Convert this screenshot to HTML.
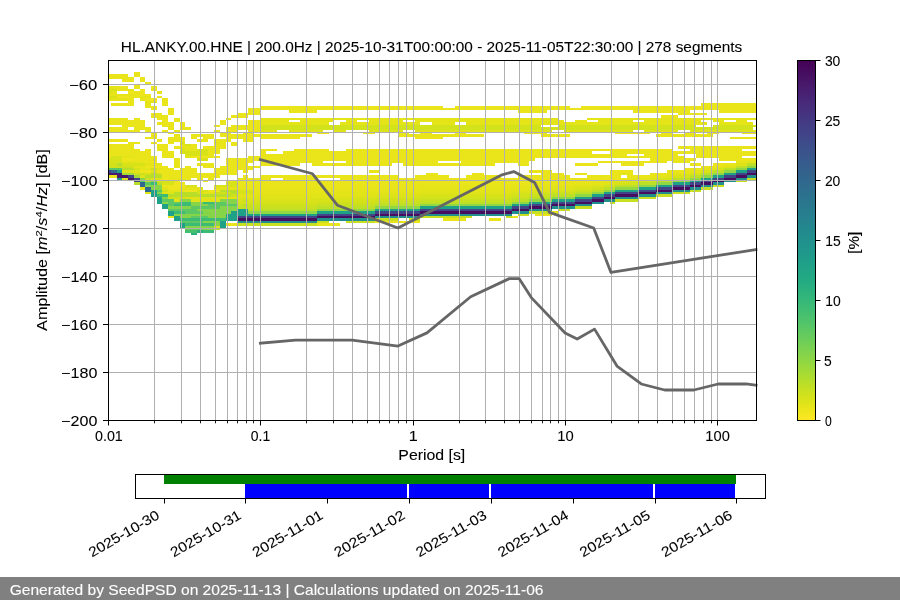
<!DOCTYPE html><html><head><meta charset="utf-8"><style>html,body{margin:0;padding:0;background:#fff;width:900px;height:600px;overflow:hidden}</style></head><body><svg width="900" height="600" viewBox="0 0 900 600" style="position:absolute;left:0;top:0;will-change:transform"><rect x="0" y="0" width="900" height="600" fill="#fff"/><g shape-rendering="crispEdges"><rect x="108" y="175" width="3" height="3" fill="#eae51a"/><rect x="108" y="173" width="3" height="2" fill="#481a6c"/><rect x="108" y="170" width="3" height="3" fill="#414487"/><rect x="108" y="168" width="3" height="2" fill="#5cc863"/><rect x="108" y="163" width="3" height="5" fill="#d0e11c"/><rect x="108" y="158" width="3" height="5" fill="#d8e219"/><rect x="108" y="156" width="3" height="2" fill="#efe51c"/><rect x="108" y="144" width="3" height="12" fill="#eae51a"/><rect x="108" y="139" width="3" height="3" fill="#eae51a"/><rect x="108" y="127" width="3" height="5" fill="#eae51a"/><rect x="108" y="118" width="3" height="7" fill="#eae51a"/><rect x="108" y="98" width="3" height="3" fill="#e5e419"/><rect x="108" y="96" width="3" height="2" fill="#d8e219"/><rect x="108" y="94" width="3" height="2" fill="#e5e419"/><rect x="108" y="89" width="3" height="5" fill="#d8e219"/><rect x="108" y="86" width="3" height="3" fill="#e5e419"/><rect x="108" y="74" width="3" height="5" fill="#eae51a"/><rect x="111" y="175" width="6" height="3" fill="#eae51a"/><rect x="111" y="173" width="6" height="2" fill="#481a6c"/><rect x="111" y="170" width="6" height="3" fill="#31688e"/><rect x="111" y="168" width="6" height="2" fill="#5cc863"/><rect x="111" y="163" width="6" height="5" fill="#d0e11c"/><rect x="111" y="156" width="6" height="7" fill="#d8e219"/><rect x="111" y="144" width="6" height="12" fill="#eae51a"/><rect x="111" y="139" width="6" height="3" fill="#eae51a"/><rect x="111" y="127" width="6" height="5" fill="#eae51a"/><rect x="111" y="118" width="6" height="7" fill="#eae51a"/><rect x="111" y="103" width="6" height="3" fill="#eae51a"/><rect x="111" y="98" width="6" height="3" fill="#e5e419"/><rect x="111" y="96" width="6" height="2" fill="#d8e219"/><rect x="111" y="91" width="6" height="5" fill="#e5e419"/><rect x="111" y="89" width="6" height="2" fill="#d8e219"/><rect x="111" y="86" width="6" height="3" fill="#e5e419"/><rect x="111" y="74" width="6" height="5" fill="#eae51a"/><rect x="117" y="178" width="5" height="2" fill="#1fa188"/><rect x="117" y="173" width="5" height="5" fill="#481a6c"/><rect x="117" y="170" width="5" height="3" fill="#1fa188"/><rect x="117" y="168" width="5" height="2" fill="#5cc863"/><rect x="117" y="166" width="5" height="2" fill="#d0e11c"/><rect x="117" y="163" width="5" height="3" fill="#b8de29"/><rect x="117" y="156" width="5" height="7" fill="#d8e219"/><rect x="117" y="144" width="5" height="12" fill="#eae51a"/><rect x="117" y="139" width="5" height="3" fill="#eae51a"/><rect x="117" y="127" width="5" height="5" fill="#eae51a"/><rect x="117" y="118" width="5" height="7" fill="#eae51a"/><rect x="117" y="103" width="5" height="3" fill="#eae51a"/><rect x="117" y="98" width="5" height="3" fill="#e5e419"/><rect x="117" y="96" width="5" height="2" fill="#efe51c"/><rect x="117" y="94" width="5" height="2" fill="#e5e419"/><rect x="117" y="86" width="5" height="5" fill="#eae51a"/><rect x="117" y="74" width="5" height="5" fill="#eae51a"/><rect x="122" y="178" width="6" height="2" fill="#dfe318"/><rect x="122" y="175" width="6" height="3" fill="#481a6c"/><rect x="122" y="173" width="6" height="2" fill="#a5db36"/><rect x="122" y="170" width="6" height="3" fill="#dfe318"/><rect x="122" y="168" width="6" height="2" fill="#b8de29"/><rect x="122" y="166" width="6" height="2" fill="#d0e11c"/><rect x="122" y="163" width="6" height="3" fill="#d8e219"/><rect x="122" y="161" width="6" height="2" fill="#e5e419"/><rect x="122" y="158" width="6" height="3" fill="#efe51c"/><rect x="122" y="156" width="6" height="2" fill="#e5e419"/><rect x="122" y="144" width="6" height="12" fill="#eae51a"/><rect x="122" y="139" width="6" height="3" fill="#eae51a"/><rect x="122" y="118" width="6" height="14" fill="#eae51a"/><rect x="122" y="103" width="6" height="3" fill="#eae51a"/><rect x="122" y="98" width="6" height="3" fill="#e5e419"/><rect x="122" y="96" width="6" height="2" fill="#efe51c"/><rect x="122" y="94" width="6" height="2" fill="#e5e419"/><rect x="122" y="86" width="6" height="5" fill="#eae51a"/><rect x="122" y="74" width="6" height="8" fill="#eae51a"/><rect x="128" y="178" width="6" height="2" fill="#481a6c"/><rect x="128" y="175" width="6" height="3" fill="#414487"/><rect x="128" y="173" width="6" height="2" fill="#a5db36"/><rect x="128" y="170" width="6" height="3" fill="#dfe318"/><rect x="128" y="168" width="6" height="2" fill="#b8de29"/><rect x="128" y="166" width="6" height="2" fill="#d0e11c"/><rect x="128" y="163" width="6" height="3" fill="#d8e219"/><rect x="128" y="161" width="6" height="2" fill="#e5e419"/><rect x="128" y="158" width="6" height="3" fill="#efe51c"/><rect x="128" y="156" width="6" height="2" fill="#e5e419"/><rect x="128" y="142" width="6" height="14" fill="#eae51a"/><rect x="128" y="130" width="6" height="2" fill="#eae51a"/><rect x="128" y="120" width="6" height="7" fill="#eae51a"/><rect x="128" y="96" width="6" height="10" fill="#eae51a"/><rect x="128" y="94" width="6" height="2" fill="#e5e419"/><rect x="128" y="91" width="6" height="3" fill="#efe51c"/><rect x="128" y="89" width="6" height="2" fill="#e5e419"/><rect x="128" y="77" width="6" height="5" fill="#eae51a"/><rect x="134" y="182" width="6" height="3" fill="#b8de29"/><rect x="134" y="178" width="6" height="4" fill="#414487"/><rect x="134" y="175" width="6" height="3" fill="#a5db36"/><rect x="134" y="173" width="6" height="2" fill="#d0e11c"/><rect x="134" y="170" width="6" height="3" fill="#dfe318"/><rect x="134" y="168" width="6" height="2" fill="#d8e219"/><rect x="134" y="166" width="6" height="2" fill="#e5e419"/><rect x="134" y="163" width="6" height="3" fill="#d8e219"/><rect x="134" y="161" width="6" height="2" fill="#e5e419"/><rect x="134" y="149" width="6" height="12" fill="#eae51a"/><rect x="134" y="142" width="6" height="2" fill="#eae51a"/><rect x="134" y="118" width="6" height="14" fill="#eae51a"/><rect x="134" y="91" width="6" height="7" fill="#eae51a"/><rect x="134" y="84" width="6" height="5" fill="#eae51a"/><rect x="134" y="72" width="6" height="5" fill="#eae51a"/><rect x="140" y="187" width="5" height="3" fill="#eae51a"/><rect x="140" y="182" width="5" height="5" fill="#31688e"/><rect x="140" y="180" width="5" height="2" fill="#5cc863"/><rect x="140" y="178" width="5" height="2" fill="#86d549"/><rect x="140" y="175" width="5" height="3" fill="#dfe318"/><rect x="140" y="173" width="5" height="2" fill="#d0e11c"/><rect x="140" y="170" width="5" height="3" fill="#efe51c"/><rect x="140" y="166" width="5" height="4" fill="#e5e419"/><rect x="140" y="163" width="5" height="3" fill="#d8e219"/><rect x="140" y="151" width="5" height="12" fill="#eae51a"/><rect x="140" y="120" width="5" height="10" fill="#eae51a"/><rect x="140" y="96" width="5" height="5" fill="#e5e419"/><rect x="140" y="89" width="5" height="7" fill="#efe51c"/><rect x="140" y="77" width="5" height="5" fill="#eae51a"/><rect x="145" y="192" width="6" height="2" fill="#dfe318"/><rect x="145" y="187" width="6" height="5" fill="#31688e"/><rect x="145" y="185" width="6" height="2" fill="#86d549"/><rect x="145" y="182" width="6" height="3" fill="#5cc863"/><rect x="145" y="180" width="6" height="2" fill="#b8de29"/><rect x="145" y="178" width="6" height="2" fill="#d0e11c"/><rect x="145" y="175" width="6" height="3" fill="#b8de29"/><rect x="145" y="173" width="6" height="2" fill="#d8e219"/><rect x="145" y="170" width="6" height="3" fill="#efe51c"/><rect x="145" y="168" width="6" height="2" fill="#e5e419"/><rect x="145" y="166" width="6" height="2" fill="#efe51c"/><rect x="145" y="163" width="6" height="3" fill="#e5e419"/><rect x="145" y="149" width="6" height="14" fill="#eae51a"/><rect x="145" y="137" width="6" height="2" fill="#eae51a"/><rect x="145" y="127" width="6" height="5" fill="#eae51a"/><rect x="145" y="106" width="6" height="2" fill="#eae51a"/><rect x="145" y="101" width="6" height="5" fill="#e5e419"/><rect x="145" y="98" width="6" height="3" fill="#efe51c"/><rect x="145" y="96" width="6" height="2" fill="#e5e419"/><rect x="145" y="94" width="6" height="2" fill="#efe51c"/><rect x="145" y="82" width="6" height="2" fill="#eae51a"/><rect x="151" y="190" width="6" height="7" fill="#1fa188"/><rect x="151" y="185" width="6" height="5" fill="#86d549"/><rect x="151" y="182" width="6" height="3" fill="#3bbb75"/><rect x="151" y="180" width="6" height="2" fill="#86d549"/><rect x="151" y="178" width="6" height="2" fill="#dfe318"/><rect x="151" y="173" width="6" height="5" fill="#b8de29"/><rect x="151" y="170" width="6" height="3" fill="#dfe318"/><rect x="151" y="168" width="6" height="2" fill="#d0e11c"/><rect x="151" y="166" width="6" height="2" fill="#efe51c"/><rect x="151" y="163" width="6" height="3" fill="#e5e419"/><rect x="151" y="161" width="6" height="2" fill="#efe51c"/><rect x="151" y="158" width="6" height="3" fill="#e5e419"/><rect x="151" y="156" width="6" height="2" fill="#efe51c"/><rect x="151" y="142" width="6" height="2" fill="#eae51a"/><rect x="151" y="132" width="6" height="7" fill="#eae51a"/><rect x="151" y="113" width="6" height="5" fill="#eae51a"/><rect x="151" y="106" width="6" height="4" fill="#eae51a"/><rect x="151" y="101" width="6" height="2" fill="#e5e419"/><rect x="151" y="98" width="6" height="3" fill="#efe51c"/><rect x="151" y="86" width="6" height="5" fill="#eae51a"/><rect x="157" y="197" width="5" height="7" fill="#1fa188"/><rect x="157" y="194" width="5" height="3" fill="#3bbb75"/><rect x="157" y="192" width="5" height="2" fill="#86d549"/><rect x="157" y="190" width="5" height="2" fill="#5cc863"/><rect x="157" y="185" width="5" height="5" fill="#86d549"/><rect x="157" y="182" width="5" height="3" fill="#b8de29"/><rect x="157" y="178" width="5" height="4" fill="#dfe318"/><rect x="157" y="175" width="5" height="3" fill="#b8de29"/><rect x="157" y="173" width="5" height="2" fill="#d0e11c"/><rect x="157" y="170" width="5" height="3" fill="#efe51c"/><rect x="157" y="168" width="5" height="2" fill="#e5e419"/><rect x="157" y="166" width="5" height="2" fill="#efe51c"/><rect x="157" y="163" width="5" height="3" fill="#e5e419"/><rect x="157" y="144" width="5" height="7" fill="#eae51a"/><rect x="157" y="139" width="5" height="3" fill="#eae51a"/><rect x="157" y="122" width="5" height="3" fill="#eae51a"/><rect x="157" y="113" width="5" height="7" fill="#eae51a"/><rect x="157" y="96" width="5" height="2" fill="#eae51a"/><rect x="157" y="91" width="5" height="3" fill="#eae51a"/><rect x="162" y="204" width="6" height="5" fill="#1fa188"/><rect x="162" y="202" width="6" height="2" fill="#86d549"/><rect x="162" y="199" width="6" height="3" fill="#5cc863"/><rect x="162" y="197" width="6" height="2" fill="#86d549"/><rect x="162" y="194" width="6" height="3" fill="#3bbb75"/><rect x="162" y="192" width="6" height="2" fill="#dfe318"/><rect x="162" y="190" width="6" height="2" fill="#d0e11c"/><rect x="162" y="187" width="6" height="3" fill="#dfe318"/><rect x="162" y="185" width="6" height="2" fill="#efe51c"/><rect x="162" y="180" width="6" height="5" fill="#d8e219"/><rect x="162" y="178" width="6" height="2" fill="#efe51c"/><rect x="162" y="166" width="6" height="12" fill="#eae51a"/><rect x="162" y="144" width="6" height="14" fill="#eae51a"/><rect x="162" y="130" width="6" height="2" fill="#eae51a"/><rect x="162" y="115" width="6" height="12" fill="#eae51a"/><rect x="162" y="98" width="6" height="8" fill="#eae51a"/><rect x="168" y="216" width="6" height="2" fill="#eae51a"/><rect x="168" y="211" width="6" height="5" fill="#1fa188"/><rect x="168" y="209" width="6" height="2" fill="#5cc863"/><rect x="168" y="206" width="6" height="3" fill="#86d549"/><rect x="168" y="199" width="6" height="7" fill="#5cc863"/><rect x="168" y="197" width="6" height="2" fill="#d0e11c"/><rect x="168" y="194" width="6" height="3" fill="#b8de29"/><rect x="168" y="192" width="6" height="2" fill="#dfe318"/><rect x="168" y="190" width="6" height="2" fill="#e5e419"/><rect x="168" y="185" width="6" height="5" fill="#efe51c"/><rect x="168" y="180" width="6" height="5" fill="#d8e219"/><rect x="168" y="168" width="6" height="12" fill="#eae51a"/><rect x="168" y="151" width="6" height="7" fill="#eae51a"/><rect x="168" y="137" width="6" height="7" fill="#eae51a"/><rect x="168" y="132" width="6" height="2" fill="#eae51a"/><rect x="168" y="122" width="6" height="8" fill="#eae51a"/><rect x="168" y="108" width="6" height="7" fill="#eae51a"/><rect x="174" y="216" width="6" height="5" fill="#1fa188"/><rect x="174" y="214" width="6" height="2" fill="#86d549"/><rect x="174" y="211" width="6" height="3" fill="#3bbb75"/><rect x="174" y="209" width="6" height="2" fill="#5cc863"/><rect x="174" y="206" width="6" height="3" fill="#86d549"/><rect x="174" y="204" width="6" height="2" fill="#3bbb75"/><rect x="174" y="202" width="6" height="2" fill="#5cc863"/><rect x="174" y="199" width="6" height="3" fill="#dfe318"/><rect x="174" y="197" width="6" height="2" fill="#d0e11c"/><rect x="174" y="192" width="6" height="5" fill="#b8de29"/><rect x="174" y="190" width="6" height="2" fill="#e5e419"/><rect x="174" y="180" width="6" height="10" fill="#efe51c"/><rect x="174" y="170" width="6" height="10" fill="#eae51a"/><rect x="174" y="158" width="6" height="10" fill="#eae51a"/><rect x="174" y="146" width="6" height="3" fill="#eae51a"/><rect x="174" y="134" width="6" height="8" fill="#eae51a"/><rect x="174" y="130" width="6" height="2" fill="#eae51a"/><rect x="174" y="118" width="6" height="4" fill="#eae51a"/><rect x="180" y="223" width="5" height="5" fill="#1fa188"/><rect x="180" y="221" width="5" height="2" fill="#5cc863"/><rect x="180" y="218" width="5" height="3" fill="#3bbb75"/><rect x="180" y="214" width="5" height="4" fill="#86d549"/><rect x="180" y="211" width="5" height="3" fill="#3bbb75"/><rect x="180" y="209" width="5" height="2" fill="#5cc863"/><rect x="180" y="206" width="5" height="3" fill="#86d549"/><rect x="180" y="202" width="5" height="4" fill="#3bbb75"/><rect x="180" y="199" width="5" height="3" fill="#86d549"/><rect x="180" y="197" width="5" height="2" fill="#d0e11c"/><rect x="180" y="192" width="5" height="5" fill="#b8de29"/><rect x="180" y="187" width="5" height="5" fill="#e5e419"/><rect x="180" y="182" width="5" height="5" fill="#efe51c"/><rect x="180" y="168" width="5" height="12" fill="#eae51a"/><rect x="180" y="149" width="5" height="5" fill="#d8e219"/><rect x="180" y="144" width="5" height="5" fill="#e5e419"/><rect x="180" y="142" width="5" height="2" fill="#d8e219"/><rect x="180" y="137" width="5" height="5" fill="#eae51a"/><rect x="180" y="122" width="5" height="8" fill="#eae51a"/><rect x="185" y="230" width="6" height="3" fill="#44bf70"/><rect x="185" y="228" width="6" height="2" fill="#67cc5c"/><rect x="185" y="226" width="6" height="2" fill="#86d549"/><rect x="185" y="223" width="6" height="3" fill="#3bbb75"/><rect x="185" y="221" width="6" height="2" fill="#5cc863"/><rect x="185" y="218" width="6" height="3" fill="#3bbb75"/><rect x="185" y="214" width="6" height="4" fill="#86d549"/><rect x="185" y="209" width="6" height="5" fill="#5cc863"/><rect x="185" y="206" width="6" height="3" fill="#86d549"/><rect x="185" y="202" width="6" height="4" fill="#3bbb75"/><rect x="185" y="199" width="6" height="3" fill="#86d549"/><rect x="185" y="197" width="6" height="2" fill="#dfe318"/><rect x="185" y="192" width="6" height="5" fill="#b8de29"/><rect x="185" y="190" width="6" height="2" fill="#efe51c"/><rect x="185" y="187" width="6" height="3" fill="#e5e419"/><rect x="185" y="185" width="6" height="2" fill="#d8e219"/><rect x="185" y="166" width="6" height="14" fill="#eae51a"/><rect x="185" y="156" width="6" height="2" fill="#e5e419"/><rect x="185" y="151" width="6" height="5" fill="#d8e219"/><rect x="185" y="146" width="6" height="5" fill="#e5e419"/><rect x="185" y="144" width="6" height="2" fill="#d8e219"/><rect x="185" y="127" width="6" height="3" fill="#eae51a"/><rect x="191" y="233" width="6" height="2" fill="#2ab07f"/><rect x="191" y="230" width="6" height="3" fill="#44bf70"/><rect x="191" y="228" width="6" height="2" fill="#67cc5c"/><rect x="191" y="226" width="6" height="2" fill="#86d549"/><rect x="191" y="223" width="6" height="3" fill="#3bbb75"/><rect x="191" y="221" width="6" height="2" fill="#5cc863"/><rect x="191" y="218" width="6" height="3" fill="#3bbb75"/><rect x="191" y="216" width="6" height="2" fill="#5cc863"/><rect x="191" y="214" width="6" height="2" fill="#86d549"/><rect x="191" y="206" width="6" height="8" fill="#5cc863"/><rect x="191" y="202" width="6" height="4" fill="#86d549"/><rect x="191" y="197" width="6" height="5" fill="#dfe318"/><rect x="191" y="192" width="6" height="5" fill="#b8de29"/><rect x="191" y="190" width="6" height="2" fill="#efe51c"/><rect x="191" y="187" width="6" height="3" fill="#e5e419"/><rect x="191" y="185" width="6" height="2" fill="#d8e219"/><rect x="191" y="168" width="6" height="10" fill="#eae51a"/><rect x="191" y="156" width="6" height="2" fill="#efe51c"/><rect x="191" y="151" width="6" height="5" fill="#d8e219"/><rect x="191" y="144" width="6" height="7" fill="#eae51a"/><rect x="191" y="134" width="6" height="5" fill="#eae51a"/><rect x="197" y="230" width="6" height="3" fill="#2ab07f"/><rect x="197" y="228" width="6" height="2" fill="#67cc5c"/><rect x="197" y="226" width="6" height="2" fill="#86d549"/><rect x="197" y="223" width="6" height="3" fill="#3bbb75"/><rect x="197" y="221" width="6" height="2" fill="#5cc863"/><rect x="197" y="218" width="6" height="3" fill="#3bbb75"/><rect x="197" y="216" width="6" height="2" fill="#5cc863"/><rect x="197" y="214" width="6" height="2" fill="#86d549"/><rect x="197" y="211" width="6" height="3" fill="#5cc863"/><rect x="197" y="209" width="6" height="2" fill="#86d549"/><rect x="197" y="206" width="6" height="3" fill="#5cc863"/><rect x="197" y="202" width="6" height="4" fill="#86d549"/><rect x="197" y="197" width="6" height="5" fill="#dfe318"/><rect x="197" y="194" width="6" height="3" fill="#b8de29"/><rect x="197" y="190" width="6" height="4" fill="#d8e219"/><rect x="197" y="187" width="6" height="3" fill="#e5e419"/><rect x="197" y="173" width="6" height="7" fill="#eae51a"/><rect x="197" y="163" width="6" height="3" fill="#eae51a"/><rect x="197" y="158" width="6" height="3" fill="#d8e219"/><rect x="197" y="156" width="6" height="2" fill="#efe51c"/><rect x="197" y="149" width="6" height="7" fill="#d8e219"/><rect x="197" y="139" width="6" height="3" fill="#eae51a"/><rect x="197" y="134" width="6" height="3" fill="#eae51a"/><rect x="203" y="230" width="5" height="3" fill="#3bbb75"/><rect x="203" y="226" width="5" height="4" fill="#86d549"/><rect x="203" y="223" width="5" height="3" fill="#3bbb75"/><rect x="203" y="221" width="5" height="2" fill="#86d549"/><rect x="203" y="218" width="5" height="3" fill="#3bbb75"/><rect x="203" y="216" width="5" height="2" fill="#5cc863"/><rect x="203" y="209" width="5" height="7" fill="#86d549"/><rect x="203" y="206" width="5" height="3" fill="#5cc863"/><rect x="203" y="204" width="5" height="2" fill="#86d549"/><rect x="203" y="202" width="5" height="2" fill="#3bbb75"/><rect x="203" y="197" width="5" height="5" fill="#dfe318"/><rect x="203" y="194" width="5" height="3" fill="#b8de29"/><rect x="203" y="192" width="5" height="2" fill="#e5e419"/><rect x="203" y="190" width="5" height="2" fill="#d8e219"/><rect x="203" y="180" width="5" height="2" fill="#eae51a"/><rect x="203" y="173" width="5" height="5" fill="#eae51a"/><rect x="203" y="163" width="5" height="5" fill="#eae51a"/><rect x="203" y="158" width="5" height="3" fill="#d8e219"/><rect x="203" y="156" width="5" height="2" fill="#efe51c"/><rect x="203" y="149" width="5" height="7" fill="#d8e219"/><rect x="203" y="146" width="5" height="3" fill="#efe51c"/><rect x="203" y="134" width="5" height="8" fill="#eae51a"/><rect x="208" y="230" width="6" height="3" fill="#3bbb75"/><rect x="208" y="226" width="6" height="4" fill="#86d549"/><rect x="208" y="223" width="6" height="3" fill="#3bbb75"/><rect x="208" y="221" width="6" height="2" fill="#86d549"/><rect x="208" y="218" width="6" height="3" fill="#3bbb75"/><rect x="208" y="209" width="6" height="9" fill="#86d549"/><rect x="208" y="204" width="6" height="5" fill="#5cc863"/><rect x="208" y="202" width="6" height="2" fill="#3bbb75"/><rect x="208" y="197" width="6" height="5" fill="#dfe318"/><rect x="208" y="194" width="6" height="3" fill="#b8de29"/><rect x="208" y="192" width="6" height="2" fill="#e5e419"/><rect x="208" y="190" width="6" height="2" fill="#efe51c"/><rect x="208" y="173" width="6" height="7" fill="#eae51a"/><rect x="208" y="163" width="6" height="5" fill="#eae51a"/><rect x="208" y="146" width="6" height="12" fill="#eae51a"/><rect x="208" y="134" width="6" height="5" fill="#eae51a"/><rect x="214" y="228" width="6" height="2" fill="#b8de29"/><rect x="214" y="226" width="6" height="2" fill="#dfe318"/><rect x="214" y="221" width="6" height="5" fill="#86d549"/><rect x="214" y="218" width="6" height="3" fill="#3bbb75"/><rect x="214" y="209" width="6" height="9" fill="#86d549"/><rect x="214" y="202" width="6" height="7" fill="#5cc863"/><rect x="214" y="197" width="6" height="5" fill="#dfe318"/><rect x="214" y="194" width="6" height="3" fill="#b8de29"/><rect x="214" y="192" width="6" height="2" fill="#d0e11c"/><rect x="214" y="190" width="6" height="2" fill="#efe51c"/><rect x="214" y="187" width="6" height="3" fill="#e5e419"/><rect x="214" y="185" width="6" height="2" fill="#d8e219"/><rect x="214" y="168" width="6" height="10" fill="#eae51a"/><rect x="214" y="156" width="6" height="2" fill="#eae51a"/><rect x="214" y="139" width="6" height="15" fill="#eae51a"/><rect x="214" y="130" width="6" height="2" fill="#eae51a"/><rect x="214" y="125" width="6" height="2" fill="#eae51a"/><rect x="220" y="221" width="6" height="7" fill="#1fa188"/><rect x="220" y="218" width="6" height="3" fill="#3bbb75"/><rect x="220" y="206" width="6" height="12" fill="#86d549"/><rect x="220" y="202" width="6" height="4" fill="#5cc863"/><rect x="220" y="199" width="6" height="3" fill="#86d549"/><rect x="220" y="197" width="6" height="2" fill="#dfe318"/><rect x="220" y="194" width="6" height="3" fill="#b8de29"/><rect x="220" y="192" width="6" height="2" fill="#d0e11c"/><rect x="220" y="190" width="6" height="2" fill="#b8de29"/><rect x="220" y="187" width="6" height="3" fill="#e5e419"/><rect x="220" y="185" width="6" height="2" fill="#d8e219"/><rect x="220" y="166" width="6" height="9" fill="#eae51a"/><rect x="220" y="139" width="6" height="10" fill="#eae51a"/><rect x="220" y="132" width="6" height="5" fill="#eae51a"/><rect x="220" y="120" width="6" height="5" fill="#eae51a"/><rect x="226" y="223" width="5" height="3" fill="#eae51a"/><rect x="226" y="214" width="5" height="7" fill="#1fa188"/><rect x="226" y="206" width="5" height="8" fill="#86d549"/><rect x="226" y="204" width="5" height="2" fill="#5cc863"/><rect x="226" y="199" width="5" height="5" fill="#86d549"/><rect x="226" y="197" width="5" height="2" fill="#dfe318"/><rect x="226" y="194" width="5" height="3" fill="#b8de29"/><rect x="226" y="192" width="5" height="2" fill="#d0e11c"/><rect x="226" y="190" width="5" height="2" fill="#b8de29"/><rect x="226" y="187" width="5" height="3" fill="#e5e419"/><rect x="226" y="182" width="5" height="5" fill="#d8e219"/><rect x="226" y="180" width="5" height="2" fill="#efe51c"/><rect x="226" y="158" width="5" height="17" fill="#eae51a"/><rect x="226" y="127" width="5" height="15" fill="#eae51a"/><rect x="226" y="118" width="5" height="2" fill="#eae51a"/><rect x="231" y="223" width="6" height="3" fill="#eae51a"/><rect x="231" y="211" width="6" height="10" fill="#1fa188"/><rect x="231" y="206" width="6" height="5" fill="#86d549"/><rect x="231" y="204" width="6" height="2" fill="#5cc863"/><rect x="231" y="199" width="6" height="5" fill="#86d549"/><rect x="231" y="197" width="6" height="2" fill="#dfe318"/><rect x="231" y="194" width="6" height="3" fill="#d0e11c"/><rect x="231" y="190" width="6" height="4" fill="#b8de29"/><rect x="231" y="187" width="6" height="3" fill="#e5e419"/><rect x="231" y="182" width="6" height="5" fill="#d8e219"/><rect x="231" y="180" width="6" height="2" fill="#e5e419"/><rect x="231" y="158" width="6" height="17" fill="#eae51a"/><rect x="231" y="142" width="6" height="4" fill="#eae51a"/><rect x="231" y="134" width="6" height="5" fill="#eae51a"/><rect x="231" y="125" width="6" height="7" fill="#eae51a"/><rect x="231" y="115" width="6" height="3" fill="#eae51a"/><rect x="237" y="223" width="6" height="3" fill="#c8e020"/><rect x="237" y="221" width="6" height="2" fill="#21908d"/><rect x="237" y="218" width="6" height="3" fill="#470d60"/><rect x="237" y="216" width="6" height="2" fill="#414487"/><rect x="237" y="209" width="6" height="7" fill="#1fa188"/><rect x="237" y="206" width="6" height="3" fill="#c5e021"/><rect x="237" y="204" width="6" height="2" fill="#cde11d"/><rect x="237" y="202" width="6" height="2" fill="#d5e21a"/><rect x="237" y="199" width="6" height="3" fill="#dae319"/><rect x="237" y="197" width="6" height="2" fill="#dde318"/><rect x="237" y="194" width="6" height="3" fill="#e2e418"/><rect x="237" y="190" width="6" height="4" fill="#d8e219"/><rect x="237" y="187" width="6" height="3" fill="#e7e419"/><rect x="237" y="185" width="6" height="2" fill="#eae51a"/><rect x="237" y="182" width="6" height="3" fill="#eae51a"/><rect x="237" y="180" width="6" height="2" fill="#eae51a"/><rect x="237" y="178" width="6" height="2" fill="#eae51a"/><rect x="237" y="158" width="6" height="12" fill="#eae51a"/><rect x="237" y="134" width="6" height="5" fill="#eae51a"/><rect x="237" y="125" width="6" height="5" fill="#eae51a"/><rect x="237" y="113" width="6" height="5" fill="#eae51a"/><rect x="243" y="223" width="5" height="3" fill="#c8e020"/><rect x="243" y="221" width="5" height="2" fill="#21908d"/><rect x="243" y="218" width="5" height="3" fill="#470d60"/><rect x="243" y="216" width="5" height="2" fill="#414487"/><rect x="243" y="209" width="5" height="7" fill="#1fa188"/><rect x="243" y="206" width="5" height="3" fill="#c5e021"/><rect x="243" y="204" width="5" height="2" fill="#b8de29"/><rect x="243" y="202" width="5" height="2" fill="#d5e21a"/><rect x="243" y="199" width="5" height="3" fill="#d0e11c"/><rect x="243" y="197" width="5" height="2" fill="#dde318"/><rect x="243" y="194" width="5" height="3" fill="#e2e418"/><rect x="243" y="190" width="5" height="4" fill="#d8e219"/><rect x="243" y="187" width="5" height="3" fill="#e7e419"/><rect x="243" y="185" width="5" height="2" fill="#eae51a"/><rect x="243" y="182" width="5" height="3" fill="#eae51a"/><rect x="243" y="180" width="5" height="2" fill="#eae51a"/><rect x="243" y="178" width="5" height="2" fill="#eae51a"/><rect x="243" y="175" width="5" height="3" fill="#eae51a"/><rect x="243" y="158" width="5" height="15" fill="#eae51a"/><rect x="243" y="132" width="5" height="10" fill="#eae51a"/><rect x="243" y="125" width="5" height="5" fill="#eae51a"/><rect x="243" y="113" width="5" height="5" fill="#eae51a"/><rect x="248" y="223" width="6" height="3" fill="#c8e020"/><rect x="248" y="221" width="6" height="2" fill="#21908d"/><rect x="248" y="218" width="6" height="3" fill="#470d60"/><rect x="248" y="216" width="6" height="2" fill="#414487"/><rect x="248" y="214" width="6" height="2" fill="#1fa188"/><rect x="248" y="211" width="6" height="3" fill="#90d743"/><rect x="248" y="209" width="6" height="2" fill="#bddf26"/><rect x="248" y="206" width="6" height="3" fill="#c5e021"/><rect x="248" y="204" width="6" height="2" fill="#cde11d"/><rect x="248" y="202" width="6" height="2" fill="#d5e21a"/><rect x="248" y="199" width="6" height="3" fill="#dae319"/><rect x="248" y="197" width="6" height="2" fill="#dde318"/><rect x="248" y="194" width="6" height="3" fill="#e2e418"/><rect x="248" y="190" width="6" height="4" fill="#d8e219"/><rect x="248" y="187" width="6" height="3" fill="#e7e419"/><rect x="248" y="185" width="6" height="2" fill="#eae51a"/><rect x="248" y="182" width="6" height="3" fill="#eae51a"/><rect x="248" y="180" width="6" height="2" fill="#eae51a"/><rect x="248" y="178" width="6" height="2" fill="#eae51a"/><rect x="248" y="166" width="6" height="4" fill="#eae51a"/><rect x="248" y="156" width="6" height="7" fill="#eae51a"/><rect x="248" y="120" width="6" height="22" fill="#eae51a"/><rect x="248" y="108" width="6" height="7" fill="#eae51a"/><rect x="254" y="223" width="6" height="3" fill="#c8e020"/><rect x="254" y="221" width="6" height="2" fill="#21908d"/><rect x="254" y="218" width="6" height="3" fill="#470d60"/><rect x="254" y="216" width="6" height="2" fill="#414487"/><rect x="254" y="214" width="6" height="2" fill="#1fa188"/><rect x="254" y="211" width="6" height="3" fill="#90d743"/><rect x="254" y="209" width="6" height="2" fill="#bddf26"/><rect x="254" y="206" width="6" height="3" fill="#c5e021"/><rect x="254" y="204" width="6" height="2" fill="#cde11d"/><rect x="254" y="202" width="6" height="2" fill="#d5e21a"/><rect x="254" y="199" width="6" height="3" fill="#dae319"/><rect x="254" y="197" width="6" height="2" fill="#dde318"/><rect x="254" y="194" width="6" height="3" fill="#e2e418"/><rect x="254" y="192" width="6" height="2" fill="#e5e419"/><rect x="254" y="190" width="6" height="2" fill="#e7e419"/><rect x="254" y="187" width="6" height="3" fill="#e7e419"/><rect x="254" y="185" width="6" height="2" fill="#eae51a"/><rect x="254" y="182" width="6" height="3" fill="#eae51a"/><rect x="254" y="180" width="6" height="2" fill="#eae51a"/><rect x="254" y="178" width="6" height="2" fill="#eae51a"/><rect x="254" y="166" width="6" height="2" fill="#eae51a"/><rect x="254" y="156" width="6" height="5" fill="#eae51a"/><rect x="254" y="134" width="6" height="3" fill="#eae51a"/><rect x="254" y="120" width="6" height="12" fill="#eae51a"/><rect x="254" y="108" width="6" height="7" fill="#eae51a"/><rect x="260" y="223" width="6" height="3" fill="#c8e020"/><rect x="260" y="221" width="6" height="2" fill="#21908d"/><rect x="260" y="218" width="6" height="3" fill="#470d60"/><rect x="260" y="216" width="6" height="2" fill="#414487"/><rect x="260" y="214" width="6" height="2" fill="#1fa188"/><rect x="260" y="211" width="6" height="3" fill="#90d743"/><rect x="260" y="209" width="6" height="2" fill="#bddf26"/><rect x="260" y="206" width="6" height="3" fill="#c8e020"/><rect x="260" y="204" width="6" height="2" fill="#d0e11c"/><rect x="260" y="202" width="6" height="2" fill="#d5e21a"/><rect x="260" y="199" width="6" height="3" fill="#dae319"/><rect x="260" y="197" width="6" height="2" fill="#dfe318"/><rect x="260" y="194" width="6" height="3" fill="#e2e418"/><rect x="260" y="192" width="6" height="2" fill="#e5e419"/><rect x="260" y="190" width="6" height="2" fill="#e7e419"/><rect x="260" y="187" width="6" height="3" fill="#e7e419"/><rect x="260" y="185" width="6" height="2" fill="#eae51a"/><rect x="260" y="182" width="6" height="3" fill="#eae51a"/><rect x="260" y="180" width="6" height="2" fill="#eae51a"/><rect x="260" y="175" width="6" height="5" fill="#eae51a"/><rect x="260" y="149" width="6" height="17" fill="#eae51a"/><rect x="260" y="134" width="6" height="5" fill="#eae51a"/><rect x="260" y="130" width="6" height="2" fill="#dfe318"/><rect x="260" y="125" width="6" height="5" fill="#d2e21b"/><rect x="260" y="118" width="6" height="7" fill="#e5e419"/><rect x="260" y="106" width="6" height="4" fill="#eae51a"/><rect x="266" y="223" width="5" height="3" fill="#c8e020"/><rect x="266" y="221" width="5" height="2" fill="#21908d"/><rect x="266" y="218" width="5" height="3" fill="#470d60"/><rect x="266" y="216" width="5" height="2" fill="#414487"/><rect x="266" y="214" width="5" height="2" fill="#1fa188"/><rect x="266" y="211" width="5" height="3" fill="#90d743"/><rect x="266" y="209" width="5" height="2" fill="#bddf26"/><rect x="266" y="206" width="5" height="3" fill="#c8e020"/><rect x="266" y="204" width="5" height="2" fill="#d0e11c"/><rect x="266" y="202" width="5" height="2" fill="#d5e21a"/><rect x="266" y="199" width="5" height="3" fill="#dae319"/><rect x="266" y="197" width="5" height="2" fill="#dfe318"/><rect x="266" y="194" width="5" height="3" fill="#e2e418"/><rect x="266" y="192" width="5" height="2" fill="#e5e419"/><rect x="266" y="190" width="5" height="2" fill="#e7e419"/><rect x="266" y="187" width="5" height="3" fill="#e7e419"/><rect x="266" y="185" width="5" height="2" fill="#eae51a"/><rect x="266" y="182" width="5" height="3" fill="#eae51a"/><rect x="266" y="180" width="5" height="2" fill="#eae51a"/><rect x="266" y="175" width="5" height="5" fill="#eae51a"/><rect x="266" y="154" width="5" height="12" fill="#eae51a"/><rect x="266" y="149" width="5" height="2" fill="#eae51a"/><rect x="266" y="134" width="5" height="5" fill="#eae51a"/><rect x="266" y="130" width="5" height="2" fill="#dfe318"/><rect x="266" y="125" width="5" height="5" fill="#d2e21b"/><rect x="266" y="118" width="5" height="7" fill="#e5e419"/><rect x="266" y="106" width="5" height="4" fill="#eae51a"/><rect x="271" y="223" width="6" height="3" fill="#c8e020"/><rect x="271" y="221" width="6" height="2" fill="#21908d"/><rect x="271" y="218" width="6" height="3" fill="#470d60"/><rect x="271" y="216" width="6" height="2" fill="#414487"/><rect x="271" y="214" width="6" height="2" fill="#1fa188"/><rect x="271" y="211" width="6" height="3" fill="#90d743"/><rect x="271" y="209" width="6" height="2" fill="#bddf26"/><rect x="271" y="206" width="6" height="3" fill="#c8e020"/><rect x="271" y="204" width="6" height="2" fill="#d0e11c"/><rect x="271" y="202" width="6" height="2" fill="#d5e21a"/><rect x="271" y="199" width="6" height="3" fill="#dae319"/><rect x="271" y="197" width="6" height="2" fill="#dfe318"/><rect x="271" y="194" width="6" height="3" fill="#e2e418"/><rect x="271" y="192" width="6" height="2" fill="#e5e419"/><rect x="271" y="190" width="6" height="2" fill="#e7e419"/><rect x="271" y="187" width="6" height="3" fill="#e7e419"/><rect x="271" y="185" width="6" height="2" fill="#eae51a"/><rect x="271" y="182" width="6" height="3" fill="#eae51a"/><rect x="271" y="180" width="6" height="2" fill="#eae51a"/><rect x="271" y="175" width="6" height="3" fill="#eae51a"/><rect x="271" y="154" width="6" height="12" fill="#eae51a"/><rect x="271" y="149" width="6" height="2" fill="#eae51a"/><rect x="271" y="134" width="6" height="5" fill="#eae51a"/><rect x="271" y="130" width="6" height="2" fill="#dfe318"/><rect x="271" y="125" width="6" height="5" fill="#d2e21b"/><rect x="271" y="118" width="6" height="7" fill="#e5e419"/><rect x="271" y="106" width="6" height="4" fill="#eae51a"/><rect x="277" y="223" width="6" height="3" fill="#c8e020"/><rect x="277" y="221" width="6" height="2" fill="#21908d"/><rect x="277" y="218" width="6" height="3" fill="#470d60"/><rect x="277" y="216" width="6" height="2" fill="#414487"/><rect x="277" y="214" width="6" height="2" fill="#1fa188"/><rect x="277" y="211" width="6" height="3" fill="#90d743"/><rect x="277" y="209" width="6" height="2" fill="#bddf26"/><rect x="277" y="206" width="6" height="3" fill="#c8e020"/><rect x="277" y="204" width="6" height="2" fill="#d0e11c"/><rect x="277" y="202" width="6" height="2" fill="#d5e21a"/><rect x="277" y="199" width="6" height="3" fill="#dae319"/><rect x="277" y="197" width="6" height="2" fill="#dfe318"/><rect x="277" y="194" width="6" height="3" fill="#e2e418"/><rect x="277" y="192" width="6" height="2" fill="#e5e419"/><rect x="277" y="190" width="6" height="2" fill="#e7e419"/><rect x="277" y="187" width="6" height="3" fill="#e7e419"/><rect x="277" y="185" width="6" height="2" fill="#eae51a"/><rect x="277" y="182" width="6" height="3" fill="#eae51a"/><rect x="277" y="180" width="6" height="2" fill="#eae51a"/><rect x="277" y="175" width="6" height="3" fill="#eae51a"/><rect x="277" y="154" width="6" height="12" fill="#eae51a"/><rect x="277" y="134" width="6" height="5" fill="#eae51a"/><rect x="277" y="125" width="6" height="5" fill="#d2e21b"/><rect x="277" y="118" width="6" height="7" fill="#e5e419"/><rect x="277" y="106" width="6" height="4" fill="#eae51a"/><rect x="283" y="223" width="6" height="3" fill="#c8e020"/><rect x="283" y="221" width="6" height="2" fill="#21908d"/><rect x="283" y="218" width="6" height="3" fill="#470d60"/><rect x="283" y="216" width="6" height="2" fill="#414487"/><rect x="283" y="214" width="6" height="2" fill="#1fa188"/><rect x="283" y="211" width="6" height="3" fill="#90d743"/><rect x="283" y="209" width="6" height="2" fill="#bddf26"/><rect x="283" y="206" width="6" height="3" fill="#c8e020"/><rect x="283" y="204" width="6" height="2" fill="#d0e11c"/><rect x="283" y="202" width="6" height="2" fill="#d5e21a"/><rect x="283" y="199" width="6" height="3" fill="#dae319"/><rect x="283" y="197" width="6" height="2" fill="#dfe318"/><rect x="283" y="194" width="6" height="3" fill="#e2e418"/><rect x="283" y="192" width="6" height="2" fill="#e5e419"/><rect x="283" y="190" width="6" height="2" fill="#e7e419"/><rect x="283" y="187" width="6" height="3" fill="#e7e419"/><rect x="283" y="185" width="6" height="2" fill="#eae51a"/><rect x="283" y="182" width="6" height="3" fill="#eae51a"/><rect x="283" y="180" width="6" height="2" fill="#eae51a"/><rect x="283" y="175" width="6" height="5" fill="#eae51a"/><rect x="283" y="151" width="6" height="15" fill="#eae51a"/><rect x="283" y="134" width="6" height="5" fill="#eae51a"/><rect x="283" y="125" width="6" height="5" fill="#d2e21b"/><rect x="283" y="118" width="6" height="7" fill="#e5e419"/><rect x="283" y="106" width="6" height="4" fill="#eae51a"/><rect x="289" y="223" width="5" height="3" fill="#c8e020"/><rect x="289" y="221" width="5" height="2" fill="#21908d"/><rect x="289" y="218" width="5" height="3" fill="#470d60"/><rect x="289" y="216" width="5" height="2" fill="#414487"/><rect x="289" y="214" width="5" height="2" fill="#1fa188"/><rect x="289" y="211" width="5" height="3" fill="#90d743"/><rect x="289" y="209" width="5" height="2" fill="#bddf26"/><rect x="289" y="206" width="5" height="3" fill="#c8e020"/><rect x="289" y="204" width="5" height="2" fill="#d0e11c"/><rect x="289" y="202" width="5" height="2" fill="#d5e21a"/><rect x="289" y="199" width="5" height="3" fill="#dae319"/><rect x="289" y="197" width="5" height="2" fill="#dfe318"/><rect x="289" y="194" width="5" height="3" fill="#e2e418"/><rect x="289" y="192" width="5" height="2" fill="#e5e419"/><rect x="289" y="190" width="5" height="2" fill="#e7e419"/><rect x="289" y="187" width="5" height="3" fill="#e7e419"/><rect x="289" y="185" width="5" height="2" fill="#eae51a"/><rect x="289" y="182" width="5" height="3" fill="#eae51a"/><rect x="289" y="180" width="5" height="2" fill="#eae51a"/><rect x="289" y="175" width="5" height="5" fill="#eae51a"/><rect x="289" y="151" width="5" height="15" fill="#eae51a"/><rect x="289" y="134" width="5" height="5" fill="#eae51a"/><rect x="289" y="130" width="5" height="2" fill="#dfe318"/><rect x="289" y="125" width="5" height="5" fill="#d2e21b"/><rect x="289" y="122" width="5" height="3" fill="#e5e419"/><rect x="289" y="118" width="5" height="2" fill="#e5e419"/><rect x="289" y="106" width="5" height="7" fill="#eae51a"/><rect x="294" y="223" width="6" height="3" fill="#c8e020"/><rect x="294" y="221" width="6" height="2" fill="#21908d"/><rect x="294" y="218" width="6" height="3" fill="#470d60"/><rect x="294" y="216" width="6" height="2" fill="#414487"/><rect x="294" y="214" width="6" height="2" fill="#1fa188"/><rect x="294" y="211" width="6" height="3" fill="#90d743"/><rect x="294" y="209" width="6" height="2" fill="#bddf26"/><rect x="294" y="206" width="6" height="3" fill="#c8e020"/><rect x="294" y="204" width="6" height="2" fill="#d0e11c"/><rect x="294" y="202" width="6" height="2" fill="#d5e21a"/><rect x="294" y="199" width="6" height="3" fill="#dae319"/><rect x="294" y="197" width="6" height="2" fill="#dfe318"/><rect x="294" y="194" width="6" height="3" fill="#e2e418"/><rect x="294" y="192" width="6" height="2" fill="#e5e419"/><rect x="294" y="190" width="6" height="2" fill="#e7e419"/><rect x="294" y="187" width="6" height="3" fill="#e7e419"/><rect x="294" y="185" width="6" height="2" fill="#eae51a"/><rect x="294" y="182" width="6" height="3" fill="#eae51a"/><rect x="294" y="180" width="6" height="2" fill="#eae51a"/><rect x="294" y="175" width="6" height="5" fill="#eae51a"/><rect x="294" y="149" width="6" height="17" fill="#eae51a"/><rect x="294" y="134" width="6" height="5" fill="#eae51a"/><rect x="294" y="130" width="6" height="2" fill="#dfe318"/><rect x="294" y="125" width="6" height="5" fill="#d2e21b"/><rect x="294" y="122" width="6" height="3" fill="#e5e419"/><rect x="294" y="118" width="6" height="2" fill="#e5e419"/><rect x="294" y="106" width="6" height="7" fill="#eae51a"/><rect x="300" y="223" width="6" height="3" fill="#c8e020"/><rect x="300" y="221" width="6" height="2" fill="#21908d"/><rect x="300" y="218" width="6" height="3" fill="#470d60"/><rect x="300" y="216" width="6" height="2" fill="#414487"/><rect x="300" y="214" width="6" height="2" fill="#1fa188"/><rect x="300" y="211" width="6" height="3" fill="#90d743"/><rect x="300" y="209" width="6" height="2" fill="#bddf26"/><rect x="300" y="206" width="6" height="3" fill="#c8e020"/><rect x="300" y="204" width="6" height="2" fill="#d0e11c"/><rect x="300" y="202" width="6" height="2" fill="#d5e21a"/><rect x="300" y="199" width="6" height="3" fill="#dae319"/><rect x="300" y="197" width="6" height="2" fill="#dfe318"/><rect x="300" y="194" width="6" height="3" fill="#e2e418"/><rect x="300" y="192" width="6" height="2" fill="#e5e419"/><rect x="300" y="190" width="6" height="2" fill="#e7e419"/><rect x="300" y="187" width="6" height="3" fill="#e7e419"/><rect x="300" y="185" width="6" height="2" fill="#eae51a"/><rect x="300" y="182" width="6" height="3" fill="#eae51a"/><rect x="300" y="180" width="6" height="2" fill="#eae51a"/><rect x="300" y="175" width="6" height="5" fill="#eae51a"/><rect x="300" y="149" width="6" height="14" fill="#eae51a"/><rect x="300" y="134" width="6" height="3" fill="#eae51a"/><rect x="300" y="130" width="6" height="2" fill="#dfe318"/><rect x="300" y="125" width="6" height="5" fill="#d2e21b"/><rect x="300" y="118" width="6" height="7" fill="#e5e419"/><rect x="300" y="106" width="6" height="7" fill="#eae51a"/><rect x="306" y="223" width="6" height="3" fill="#c8e020"/><rect x="306" y="221" width="6" height="2" fill="#21908d"/><rect x="306" y="218" width="6" height="3" fill="#470d60"/><rect x="306" y="216" width="6" height="2" fill="#414487"/><rect x="306" y="214" width="6" height="2" fill="#1fa188"/><rect x="306" y="211" width="6" height="3" fill="#90d743"/><rect x="306" y="209" width="6" height="2" fill="#bddf26"/><rect x="306" y="206" width="6" height="3" fill="#c8e020"/><rect x="306" y="204" width="6" height="2" fill="#d0e11c"/><rect x="306" y="202" width="6" height="2" fill="#d5e21a"/><rect x="306" y="199" width="6" height="3" fill="#dae319"/><rect x="306" y="197" width="6" height="2" fill="#dfe318"/><rect x="306" y="194" width="6" height="3" fill="#e2e418"/><rect x="306" y="192" width="6" height="2" fill="#e5e419"/><rect x="306" y="190" width="6" height="2" fill="#e7e419"/><rect x="306" y="187" width="6" height="3" fill="#e7e419"/><rect x="306" y="185" width="6" height="2" fill="#eae51a"/><rect x="306" y="182" width="6" height="3" fill="#eae51a"/><rect x="306" y="180" width="6" height="2" fill="#eae51a"/><rect x="306" y="175" width="6" height="5" fill="#eae51a"/><rect x="306" y="149" width="6" height="14" fill="#eae51a"/><rect x="306" y="134" width="6" height="3" fill="#eae51a"/><rect x="306" y="130" width="6" height="2" fill="#dfe318"/><rect x="306" y="125" width="6" height="5" fill="#d2e21b"/><rect x="306" y="118" width="6" height="7" fill="#e5e419"/><rect x="306" y="106" width="6" height="7" fill="#eae51a"/><rect x="312" y="223" width="5" height="3" fill="#c8e020"/><rect x="312" y="221" width="5" height="2" fill="#21908d"/><rect x="312" y="218" width="5" height="3" fill="#470d60"/><rect x="312" y="216" width="5" height="2" fill="#414487"/><rect x="312" y="214" width="5" height="2" fill="#1fa188"/><rect x="312" y="211" width="5" height="3" fill="#90d743"/><rect x="312" y="209" width="5" height="2" fill="#bddf26"/><rect x="312" y="206" width="5" height="3" fill="#c8e020"/><rect x="312" y="204" width="5" height="2" fill="#d0e11c"/><rect x="312" y="202" width="5" height="2" fill="#d5e21a"/><rect x="312" y="199" width="5" height="3" fill="#dae319"/><rect x="312" y="197" width="5" height="2" fill="#dfe318"/><rect x="312" y="194" width="5" height="3" fill="#e2e418"/><rect x="312" y="192" width="5" height="2" fill="#e5e419"/><rect x="312" y="190" width="5" height="2" fill="#e7e419"/><rect x="312" y="187" width="5" height="3" fill="#e7e419"/><rect x="312" y="185" width="5" height="2" fill="#eae51a"/><rect x="312" y="182" width="5" height="3" fill="#eae51a"/><rect x="312" y="180" width="5" height="2" fill="#eae51a"/><rect x="312" y="175" width="5" height="5" fill="#eae51a"/><rect x="312" y="149" width="5" height="17" fill="#eae51a"/><rect x="312" y="130" width="5" height="2" fill="#dfe318"/><rect x="312" y="125" width="5" height="5" fill="#d2e21b"/><rect x="312" y="118" width="5" height="7" fill="#e5e419"/><rect x="312" y="106" width="5" height="7" fill="#eae51a"/><rect x="317" y="223" width="6" height="3" fill="#eae51a"/><rect x="317" y="221" width="6" height="2" fill="#c8e020"/><rect x="317" y="218" width="6" height="3" fill="#21908d"/><rect x="317" y="216" width="6" height="2" fill="#470d60"/><rect x="317" y="214" width="6" height="2" fill="#414487"/><rect x="317" y="211" width="6" height="3" fill="#1fa188"/><rect x="317" y="209" width="6" height="2" fill="#90d743"/><rect x="317" y="206" width="6" height="3" fill="#bddf26"/><rect x="317" y="204" width="6" height="2" fill="#c8e020"/><rect x="317" y="202" width="6" height="2" fill="#d0e11c"/><rect x="317" y="199" width="6" height="3" fill="#d8e219"/><rect x="317" y="197" width="6" height="2" fill="#dde318"/><rect x="317" y="194" width="6" height="3" fill="#e2e418"/><rect x="317" y="192" width="6" height="2" fill="#e5e419"/><rect x="317" y="190" width="6" height="2" fill="#e7e419"/><rect x="317" y="187" width="6" height="3" fill="#e7e419"/><rect x="317" y="185" width="6" height="2" fill="#eae51a"/><rect x="317" y="182" width="6" height="3" fill="#eae51a"/><rect x="317" y="180" width="6" height="2" fill="#eae51a"/><rect x="317" y="175" width="6" height="3" fill="#eae51a"/><rect x="317" y="149" width="6" height="17" fill="#eae51a"/><rect x="317" y="132" width="6" height="2" fill="#eae51a"/><rect x="317" y="130" width="6" height="2" fill="#dfe318"/><rect x="317" y="125" width="6" height="5" fill="#d2e21b"/><rect x="317" y="118" width="6" height="7" fill="#e5e419"/><rect x="317" y="106" width="6" height="4" fill="#eae51a"/><rect x="323" y="223" width="6" height="3" fill="#eae51a"/><rect x="323" y="221" width="6" height="2" fill="#c8e020"/><rect x="323" y="218" width="6" height="3" fill="#21908d"/><rect x="323" y="216" width="6" height="2" fill="#470d60"/><rect x="323" y="214" width="6" height="2" fill="#414487"/><rect x="323" y="211" width="6" height="3" fill="#1fa188"/><rect x="323" y="209" width="6" height="2" fill="#90d743"/><rect x="323" y="206" width="6" height="3" fill="#bddf26"/><rect x="323" y="204" width="6" height="2" fill="#c8e020"/><rect x="323" y="202" width="6" height="2" fill="#d0e11c"/><rect x="323" y="199" width="6" height="3" fill="#d8e219"/><rect x="323" y="197" width="6" height="2" fill="#dde318"/><rect x="323" y="194" width="6" height="3" fill="#e2e418"/><rect x="323" y="192" width="6" height="2" fill="#e5e419"/><rect x="323" y="190" width="6" height="2" fill="#e7e419"/><rect x="323" y="187" width="6" height="3" fill="#e7e419"/><rect x="323" y="185" width="6" height="2" fill="#eae51a"/><rect x="323" y="182" width="6" height="3" fill="#eae51a"/><rect x="323" y="180" width="6" height="2" fill="#eae51a"/><rect x="323" y="175" width="6" height="3" fill="#eae51a"/><rect x="323" y="163" width="6" height="3" fill="#eae51a"/><rect x="323" y="149" width="6" height="12" fill="#eae51a"/><rect x="323" y="132" width="6" height="2" fill="#eae51a"/><rect x="323" y="125" width="6" height="5" fill="#d2e21b"/><rect x="323" y="118" width="6" height="7" fill="#e5e419"/><rect x="323" y="106" width="6" height="4" fill="#eae51a"/><rect x="329" y="223" width="5" height="3" fill="#eae51a"/><rect x="329" y="218" width="5" height="3" fill="#21908d"/><rect x="329" y="216" width="5" height="2" fill="#470d60"/><rect x="329" y="214" width="5" height="2" fill="#414487"/><rect x="329" y="211" width="5" height="3" fill="#1fa188"/><rect x="329" y="209" width="5" height="2" fill="#90d743"/><rect x="329" y="206" width="5" height="3" fill="#bddf26"/><rect x="329" y="204" width="5" height="2" fill="#c8e020"/><rect x="329" y="202" width="5" height="2" fill="#d0e11c"/><rect x="329" y="199" width="5" height="3" fill="#d8e219"/><rect x="329" y="197" width="5" height="2" fill="#dde318"/><rect x="329" y="194" width="5" height="3" fill="#e2e418"/><rect x="329" y="192" width="5" height="2" fill="#e5e419"/><rect x="329" y="190" width="5" height="2" fill="#e7e419"/><rect x="329" y="187" width="5" height="3" fill="#e7e419"/><rect x="329" y="185" width="5" height="2" fill="#eae51a"/><rect x="329" y="182" width="5" height="3" fill="#eae51a"/><rect x="329" y="180" width="5" height="2" fill="#eae51a"/><rect x="329" y="175" width="5" height="3" fill="#eae51a"/><rect x="329" y="163" width="5" height="3" fill="#eae51a"/><rect x="329" y="151" width="5" height="10" fill="#eae51a"/><rect x="329" y="125" width="5" height="5" fill="#d2e21b"/><rect x="329" y="118" width="5" height="4" fill="#e5e419"/><rect x="329" y="106" width="5" height="4" fill="#eae51a"/><rect x="334" y="223" width="6" height="3" fill="#eae51a"/><rect x="334" y="218" width="6" height="3" fill="#21908d"/><rect x="334" y="216" width="6" height="2" fill="#470d60"/><rect x="334" y="214" width="6" height="2" fill="#414487"/><rect x="334" y="211" width="6" height="3" fill="#1fa188"/><rect x="334" y="209" width="6" height="2" fill="#90d743"/><rect x="334" y="206" width="6" height="3" fill="#bddf26"/><rect x="334" y="204" width="6" height="2" fill="#c8e020"/><rect x="334" y="202" width="6" height="2" fill="#d0e11c"/><rect x="334" y="199" width="6" height="3" fill="#d8e219"/><rect x="334" y="197" width="6" height="2" fill="#dde318"/><rect x="334" y="194" width="6" height="3" fill="#e2e418"/><rect x="334" y="192" width="6" height="2" fill="#e5e419"/><rect x="334" y="190" width="6" height="2" fill="#e7e419"/><rect x="334" y="187" width="6" height="3" fill="#e7e419"/><rect x="334" y="185" width="6" height="2" fill="#eae51a"/><rect x="334" y="182" width="6" height="3" fill="#eae51a"/><rect x="334" y="180" width="6" height="2" fill="#eae51a"/><rect x="334" y="175" width="6" height="3" fill="#eae51a"/><rect x="334" y="163" width="6" height="3" fill="#eae51a"/><rect x="334" y="151" width="6" height="10" fill="#eae51a"/><rect x="334" y="130" width="6" height="2" fill="#dfe318"/><rect x="334" y="125" width="6" height="5" fill="#d2e21b"/><rect x="334" y="118" width="6" height="2" fill="#e5e419"/><rect x="334" y="106" width="6" height="4" fill="#eae51a"/><rect x="340" y="218" width="6" height="3" fill="#21908d"/><rect x="340" y="216" width="6" height="2" fill="#470d60"/><rect x="340" y="214" width="6" height="2" fill="#414487"/><rect x="340" y="211" width="6" height="3" fill="#1fa188"/><rect x="340" y="209" width="6" height="2" fill="#90d743"/><rect x="340" y="206" width="6" height="3" fill="#bddf26"/><rect x="340" y="204" width="6" height="2" fill="#c8e020"/><rect x="340" y="202" width="6" height="2" fill="#d0e11c"/><rect x="340" y="199" width="6" height="3" fill="#d8e219"/><rect x="340" y="197" width="6" height="2" fill="#dde318"/><rect x="340" y="194" width="6" height="3" fill="#e2e418"/><rect x="340" y="192" width="6" height="2" fill="#e5e419"/><rect x="340" y="190" width="6" height="2" fill="#e7e419"/><rect x="340" y="187" width="6" height="3" fill="#e7e419"/><rect x="340" y="185" width="6" height="2" fill="#eae51a"/><rect x="340" y="182" width="6" height="3" fill="#eae51a"/><rect x="340" y="180" width="6" height="2" fill="#eae51a"/><rect x="340" y="175" width="6" height="5" fill="#eae51a"/><rect x="340" y="163" width="6" height="3" fill="#eae51a"/><rect x="340" y="151" width="6" height="10" fill="#eae51a"/><rect x="340" y="130" width="6" height="2" fill="#dfe318"/><rect x="340" y="125" width="6" height="5" fill="#d2e21b"/><rect x="340" y="122" width="6" height="3" fill="#e5e419"/><rect x="340" y="118" width="6" height="2" fill="#e5e419"/><rect x="340" y="106" width="6" height="4" fill="#eae51a"/><rect x="346" y="221" width="6" height="2" fill="#c8e020"/><rect x="346" y="218" width="6" height="3" fill="#21908d"/><rect x="346" y="216" width="6" height="2" fill="#470d60"/><rect x="346" y="214" width="6" height="2" fill="#414487"/><rect x="346" y="211" width="6" height="3" fill="#1fa188"/><rect x="346" y="209" width="6" height="2" fill="#90d743"/><rect x="346" y="206" width="6" height="3" fill="#bddf26"/><rect x="346" y="204" width="6" height="2" fill="#c8e020"/><rect x="346" y="202" width="6" height="2" fill="#d0e11c"/><rect x="346" y="199" width="6" height="3" fill="#d8e219"/><rect x="346" y="197" width="6" height="2" fill="#dde318"/><rect x="346" y="194" width="6" height="3" fill="#e2e418"/><rect x="346" y="192" width="6" height="2" fill="#e5e419"/><rect x="346" y="190" width="6" height="2" fill="#e7e419"/><rect x="346" y="187" width="6" height="3" fill="#e7e419"/><rect x="346" y="185" width="6" height="2" fill="#eae51a"/><rect x="346" y="182" width="6" height="3" fill="#eae51a"/><rect x="346" y="180" width="6" height="2" fill="#eae51a"/><rect x="346" y="175" width="6" height="5" fill="#eae51a"/><rect x="346" y="149" width="6" height="17" fill="#eae51a"/><rect x="346" y="125" width="6" height="5" fill="#d2e21b"/><rect x="346" y="118" width="6" height="7" fill="#e5e419"/><rect x="346" y="106" width="6" height="4" fill="#eae51a"/><rect x="352" y="221" width="5" height="2" fill="#c8e020"/><rect x="352" y="218" width="5" height="3" fill="#21908d"/><rect x="352" y="216" width="5" height="2" fill="#470d60"/><rect x="352" y="214" width="5" height="2" fill="#414487"/><rect x="352" y="211" width="5" height="3" fill="#1fa188"/><rect x="352" y="209" width="5" height="2" fill="#90d743"/><rect x="352" y="206" width="5" height="3" fill="#bddf26"/><rect x="352" y="204" width="5" height="2" fill="#c8e020"/><rect x="352" y="202" width="5" height="2" fill="#d0e11c"/><rect x="352" y="199" width="5" height="3" fill="#d5e21a"/><rect x="352" y="197" width="5" height="2" fill="#dae319"/><rect x="352" y="194" width="5" height="3" fill="#dfe318"/><rect x="352" y="192" width="5" height="2" fill="#e2e418"/><rect x="352" y="190" width="5" height="2" fill="#e5e419"/><rect x="352" y="187" width="5" height="3" fill="#e7e419"/><rect x="352" y="185" width="5" height="2" fill="#e7e419"/><rect x="352" y="182" width="5" height="3" fill="#eae51a"/><rect x="352" y="180" width="5" height="2" fill="#eae51a"/><rect x="352" y="178" width="5" height="2" fill="#eae51a"/><rect x="352" y="175" width="5" height="3" fill="#eae51a"/><rect x="352" y="149" width="5" height="17" fill="#eae51a"/><rect x="352" y="125" width="5" height="5" fill="#d2e21b"/><rect x="352" y="118" width="5" height="7" fill="#e5e419"/><rect x="352" y="106" width="5" height="4" fill="#eae51a"/><rect x="357" y="221" width="6" height="2" fill="#c8e020"/><rect x="357" y="218" width="6" height="3" fill="#21908d"/><rect x="357" y="216" width="6" height="2" fill="#470d60"/><rect x="357" y="214" width="6" height="2" fill="#414487"/><rect x="357" y="211" width="6" height="3" fill="#1fa188"/><rect x="357" y="209" width="6" height="2" fill="#90d743"/><rect x="357" y="206" width="6" height="3" fill="#bddf26"/><rect x="357" y="204" width="6" height="2" fill="#c8e020"/><rect x="357" y="202" width="6" height="2" fill="#d0e11c"/><rect x="357" y="199" width="6" height="3" fill="#d5e21a"/><rect x="357" y="197" width="6" height="2" fill="#dae319"/><rect x="357" y="194" width="6" height="3" fill="#dfe318"/><rect x="357" y="192" width="6" height="2" fill="#e2e418"/><rect x="357" y="190" width="6" height="2" fill="#e5e419"/><rect x="357" y="187" width="6" height="3" fill="#e7e419"/><rect x="357" y="185" width="6" height="2" fill="#e7e419"/><rect x="357" y="182" width="6" height="3" fill="#eae51a"/><rect x="357" y="180" width="6" height="2" fill="#eae51a"/><rect x="357" y="178" width="6" height="2" fill="#eae51a"/><rect x="357" y="175" width="6" height="3" fill="#eae51a"/><rect x="357" y="149" width="6" height="17" fill="#eae51a"/><rect x="357" y="125" width="6" height="5" fill="#d2e21b"/><rect x="357" y="122" width="6" height="3" fill="#e5e419"/><rect x="357" y="118" width="6" height="2" fill="#e5e419"/><rect x="357" y="106" width="6" height="4" fill="#eae51a"/><rect x="363" y="221" width="6" height="2" fill="#c8e020"/><rect x="363" y="218" width="6" height="3" fill="#21908d"/><rect x="363" y="216" width="6" height="2" fill="#470d60"/><rect x="363" y="214" width="6" height="2" fill="#414487"/><rect x="363" y="211" width="6" height="3" fill="#1fa188"/><rect x="363" y="209" width="6" height="2" fill="#90d743"/><rect x="363" y="206" width="6" height="3" fill="#bddf26"/><rect x="363" y="204" width="6" height="2" fill="#c8e020"/><rect x="363" y="202" width="6" height="2" fill="#d0e11c"/><rect x="363" y="199" width="6" height="3" fill="#d5e21a"/><rect x="363" y="197" width="6" height="2" fill="#dae319"/><rect x="363" y="194" width="6" height="3" fill="#dfe318"/><rect x="363" y="192" width="6" height="2" fill="#e2e418"/><rect x="363" y="190" width="6" height="2" fill="#e5e419"/><rect x="363" y="187" width="6" height="3" fill="#e7e419"/><rect x="363" y="185" width="6" height="2" fill="#e7e419"/><rect x="363" y="182" width="6" height="3" fill="#eae51a"/><rect x="363" y="180" width="6" height="2" fill="#eae51a"/><rect x="363" y="178" width="6" height="2" fill="#eae51a"/><rect x="363" y="175" width="6" height="3" fill="#eae51a"/><rect x="363" y="149" width="6" height="17" fill="#eae51a"/><rect x="363" y="132" width="6" height="2" fill="#eae51a"/><rect x="363" y="125" width="6" height="5" fill="#d2e21b"/><rect x="363" y="122" width="6" height="3" fill="#e5e419"/><rect x="363" y="118" width="6" height="2" fill="#e5e419"/><rect x="363" y="106" width="6" height="4" fill="#eae51a"/><rect x="369" y="221" width="6" height="2" fill="#c8e020"/><rect x="369" y="218" width="6" height="3" fill="#21908d"/><rect x="369" y="216" width="6" height="2" fill="#470d60"/><rect x="369" y="214" width="6" height="2" fill="#414487"/><rect x="369" y="211" width="6" height="3" fill="#1fa188"/><rect x="369" y="209" width="6" height="2" fill="#90d743"/><rect x="369" y="206" width="6" height="3" fill="#bddf26"/><rect x="369" y="204" width="6" height="2" fill="#c8e020"/><rect x="369" y="202" width="6" height="2" fill="#d0e11c"/><rect x="369" y="199" width="6" height="3" fill="#d5e21a"/><rect x="369" y="197" width="6" height="2" fill="#dae319"/><rect x="369" y="194" width="6" height="3" fill="#dfe318"/><rect x="369" y="192" width="6" height="2" fill="#e2e418"/><rect x="369" y="190" width="6" height="2" fill="#e5e419"/><rect x="369" y="187" width="6" height="3" fill="#e7e419"/><rect x="369" y="185" width="6" height="2" fill="#e7e419"/><rect x="369" y="182" width="6" height="3" fill="#eae51a"/><rect x="369" y="180" width="6" height="2" fill="#eae51a"/><rect x="369" y="178" width="6" height="2" fill="#eae51a"/><rect x="369" y="175" width="6" height="3" fill="#eae51a"/><rect x="369" y="170" width="6" height="3" fill="#eae51a"/><rect x="369" y="149" width="6" height="17" fill="#eae51a"/><rect x="369" y="132" width="6" height="2" fill="#eae51a"/><rect x="369" y="130" width="6" height="2" fill="#dfe318"/><rect x="369" y="125" width="6" height="5" fill="#d2e21b"/><rect x="369" y="118" width="6" height="7" fill="#e5e419"/><rect x="369" y="106" width="6" height="4" fill="#eae51a"/><rect x="375" y="221" width="5" height="2" fill="#eae51a"/><rect x="375" y="218" width="5" height="3" fill="#c8e020"/><rect x="375" y="216" width="5" height="2" fill="#21908d"/><rect x="375" y="214" width="5" height="2" fill="#470d60"/><rect x="375" y="211" width="5" height="3" fill="#414487"/><rect x="375" y="209" width="5" height="2" fill="#1fa188"/><rect x="375" y="206" width="5" height="3" fill="#90d743"/><rect x="375" y="204" width="5" height="2" fill="#bddf26"/><rect x="375" y="202" width="5" height="2" fill="#c8e020"/><rect x="375" y="199" width="5" height="3" fill="#d0e11c"/><rect x="375" y="197" width="5" height="2" fill="#d8e219"/><rect x="375" y="194" width="5" height="3" fill="#dde318"/><rect x="375" y="192" width="5" height="2" fill="#e2e418"/><rect x="375" y="190" width="5" height="2" fill="#e5e419"/><rect x="375" y="187" width="5" height="3" fill="#e7e419"/><rect x="375" y="185" width="5" height="2" fill="#e7e419"/><rect x="375" y="182" width="5" height="3" fill="#eae51a"/><rect x="375" y="180" width="5" height="2" fill="#eae51a"/><rect x="375" y="178" width="5" height="2" fill="#eae51a"/><rect x="375" y="175" width="5" height="3" fill="#eae51a"/><rect x="375" y="170" width="5" height="3" fill="#eae51a"/><rect x="375" y="149" width="5" height="17" fill="#eae51a"/><rect x="375" y="130" width="5" height="2" fill="#dfe318"/><rect x="375" y="125" width="5" height="5" fill="#d2e21b"/><rect x="375" y="118" width="5" height="7" fill="#e5e419"/><rect x="375" y="106" width="5" height="4" fill="#eae51a"/><rect x="380" y="221" width="6" height="2" fill="#eae51a"/><rect x="380" y="218" width="6" height="3" fill="#c8e020"/><rect x="380" y="216" width="6" height="2" fill="#21908d"/><rect x="380" y="214" width="6" height="2" fill="#470d60"/><rect x="380" y="211" width="6" height="3" fill="#414487"/><rect x="380" y="209" width="6" height="2" fill="#1fa188"/><rect x="380" y="206" width="6" height="3" fill="#90d743"/><rect x="380" y="204" width="6" height="2" fill="#bddf26"/><rect x="380" y="202" width="6" height="2" fill="#c8e020"/><rect x="380" y="199" width="6" height="3" fill="#d0e11c"/><rect x="380" y="197" width="6" height="2" fill="#d8e219"/><rect x="380" y="194" width="6" height="3" fill="#dde318"/><rect x="380" y="192" width="6" height="2" fill="#e2e418"/><rect x="380" y="190" width="6" height="2" fill="#e5e419"/><rect x="380" y="187" width="6" height="3" fill="#e7e419"/><rect x="380" y="185" width="6" height="2" fill="#e7e419"/><rect x="380" y="182" width="6" height="3" fill="#eae51a"/><rect x="380" y="180" width="6" height="2" fill="#eae51a"/><rect x="380" y="178" width="6" height="2" fill="#eae51a"/><rect x="380" y="175" width="6" height="3" fill="#eae51a"/><rect x="380" y="149" width="6" height="17" fill="#eae51a"/><rect x="380" y="130" width="6" height="2" fill="#dfe318"/><rect x="380" y="125" width="6" height="5" fill="#d2e21b"/><rect x="380" y="118" width="6" height="7" fill="#e5e419"/><rect x="380" y="106" width="6" height="4" fill="#eae51a"/><rect x="386" y="221" width="6" height="2" fill="#eae51a"/><rect x="386" y="218" width="6" height="3" fill="#c8e020"/><rect x="386" y="216" width="6" height="2" fill="#21908d"/><rect x="386" y="214" width="6" height="2" fill="#470d60"/><rect x="386" y="211" width="6" height="3" fill="#414487"/><rect x="386" y="209" width="6" height="2" fill="#1fa188"/><rect x="386" y="206" width="6" height="3" fill="#90d743"/><rect x="386" y="204" width="6" height="2" fill="#bddf26"/><rect x="386" y="202" width="6" height="2" fill="#c8e020"/><rect x="386" y="199" width="6" height="3" fill="#d0e11c"/><rect x="386" y="197" width="6" height="2" fill="#d8e219"/><rect x="386" y="194" width="6" height="3" fill="#dde318"/><rect x="386" y="192" width="6" height="2" fill="#e2e418"/><rect x="386" y="190" width="6" height="2" fill="#e5e419"/><rect x="386" y="187" width="6" height="3" fill="#e7e419"/><rect x="386" y="185" width="6" height="2" fill="#e7e419"/><rect x="386" y="182" width="6" height="3" fill="#eae51a"/><rect x="386" y="180" width="6" height="2" fill="#eae51a"/><rect x="386" y="178" width="6" height="2" fill="#eae51a"/><rect x="386" y="175" width="6" height="3" fill="#eae51a"/><rect x="386" y="149" width="6" height="17" fill="#eae51a"/><rect x="386" y="130" width="6" height="2" fill="#dfe318"/><rect x="386" y="125" width="6" height="5" fill="#d2e21b"/><rect x="386" y="118" width="6" height="7" fill="#e5e419"/><rect x="386" y="106" width="6" height="4" fill="#eae51a"/><rect x="392" y="221" width="6" height="2" fill="#eae51a"/><rect x="392" y="218" width="6" height="3" fill="#c8e020"/><rect x="392" y="216" width="6" height="2" fill="#21908d"/><rect x="392" y="214" width="6" height="2" fill="#470d60"/><rect x="392" y="211" width="6" height="3" fill="#414487"/><rect x="392" y="209" width="6" height="2" fill="#1fa188"/><rect x="392" y="206" width="6" height="3" fill="#90d743"/><rect x="392" y="204" width="6" height="2" fill="#bddf26"/><rect x="392" y="202" width="6" height="2" fill="#c8e020"/><rect x="392" y="199" width="6" height="3" fill="#d0e11c"/><rect x="392" y="197" width="6" height="2" fill="#d8e219"/><rect x="392" y="194" width="6" height="3" fill="#dde318"/><rect x="392" y="192" width="6" height="2" fill="#e2e418"/><rect x="392" y="190" width="6" height="2" fill="#e5e419"/><rect x="392" y="187" width="6" height="3" fill="#e7e419"/><rect x="392" y="185" width="6" height="2" fill="#e7e419"/><rect x="392" y="182" width="6" height="3" fill="#eae51a"/><rect x="392" y="180" width="6" height="2" fill="#eae51a"/><rect x="392" y="178" width="6" height="2" fill="#eae51a"/><rect x="392" y="175" width="6" height="3" fill="#eae51a"/><rect x="392" y="149" width="6" height="14" fill="#eae51a"/><rect x="392" y="130" width="6" height="2" fill="#dfe318"/><rect x="392" y="125" width="6" height="5" fill="#d2e21b"/><rect x="392" y="118" width="6" height="7" fill="#e5e419"/><rect x="392" y="106" width="6" height="4" fill="#eae51a"/><rect x="398" y="221" width="5" height="2" fill="#eae51a"/><rect x="398" y="216" width="5" height="2" fill="#21908d"/><rect x="398" y="214" width="5" height="2" fill="#470d60"/><rect x="398" y="211" width="5" height="3" fill="#414487"/><rect x="398" y="209" width="5" height="2" fill="#1fa188"/><rect x="398" y="206" width="5" height="3" fill="#90d743"/><rect x="398" y="204" width="5" height="2" fill="#bddf26"/><rect x="398" y="202" width="5" height="2" fill="#c8e020"/><rect x="398" y="199" width="5" height="3" fill="#d0e11c"/><rect x="398" y="197" width="5" height="2" fill="#d8e219"/><rect x="398" y="194" width="5" height="3" fill="#dde318"/><rect x="398" y="192" width="5" height="2" fill="#e2e418"/><rect x="398" y="190" width="5" height="2" fill="#e5e419"/><rect x="398" y="187" width="5" height="3" fill="#e7e419"/><rect x="398" y="185" width="5" height="2" fill="#e7e419"/><rect x="398" y="182" width="5" height="3" fill="#eae51a"/><rect x="398" y="180" width="5" height="2" fill="#eae51a"/><rect x="398" y="178" width="5" height="2" fill="#eae51a"/><rect x="398" y="149" width="5" height="14" fill="#eae51a"/><rect x="398" y="132" width="5" height="5" fill="#eae51a"/><rect x="398" y="130" width="5" height="2" fill="#dfe318"/><rect x="398" y="125" width="5" height="5" fill="#d2e21b"/><rect x="398" y="118" width="5" height="7" fill="#e5e419"/><rect x="398" y="106" width="5" height="4" fill="#eae51a"/><rect x="403" y="221" width="6" height="2" fill="#eae51a"/><rect x="403" y="216" width="6" height="2" fill="#21908d"/><rect x="403" y="214" width="6" height="2" fill="#470d60"/><rect x="403" y="211" width="6" height="3" fill="#414487"/><rect x="403" y="209" width="6" height="2" fill="#1fa188"/><rect x="403" y="206" width="6" height="3" fill="#90d743"/><rect x="403" y="204" width="6" height="2" fill="#bddf26"/><rect x="403" y="202" width="6" height="2" fill="#c8e020"/><rect x="403" y="199" width="6" height="3" fill="#d0e11c"/><rect x="403" y="197" width="6" height="2" fill="#d8e219"/><rect x="403" y="194" width="6" height="3" fill="#dde318"/><rect x="403" y="192" width="6" height="2" fill="#e2e418"/><rect x="403" y="190" width="6" height="2" fill="#e5e419"/><rect x="403" y="187" width="6" height="3" fill="#e7e419"/><rect x="403" y="185" width="6" height="2" fill="#e7e419"/><rect x="403" y="182" width="6" height="3" fill="#eae51a"/><rect x="403" y="180" width="6" height="2" fill="#eae51a"/><rect x="403" y="178" width="6" height="2" fill="#eae51a"/><rect x="403" y="149" width="6" height="17" fill="#eae51a"/><rect x="403" y="132" width="6" height="5" fill="#eae51a"/><rect x="403" y="125" width="6" height="5" fill="#d2e21b"/><rect x="403" y="122" width="6" height="3" fill="#e5e419"/><rect x="403" y="118" width="6" height="2" fill="#e5e419"/><rect x="403" y="106" width="6" height="4" fill="#eae51a"/><rect x="409" y="221" width="6" height="2" fill="#eae51a"/><rect x="409" y="218" width="6" height="3" fill="#c8e020"/><rect x="409" y="216" width="6" height="2" fill="#21908d"/><rect x="409" y="214" width="6" height="2" fill="#470d60"/><rect x="409" y="211" width="6" height="3" fill="#414487"/><rect x="409" y="209" width="6" height="2" fill="#1fa188"/><rect x="409" y="206" width="6" height="3" fill="#90d743"/><rect x="409" y="204" width="6" height="2" fill="#bddf26"/><rect x="409" y="202" width="6" height="2" fill="#c8e020"/><rect x="409" y="199" width="6" height="3" fill="#d0e11c"/><rect x="409" y="197" width="6" height="2" fill="#d8e219"/><rect x="409" y="194" width="6" height="3" fill="#dde318"/><rect x="409" y="192" width="6" height="2" fill="#e2e418"/><rect x="409" y="190" width="6" height="2" fill="#e5e419"/><rect x="409" y="187" width="6" height="3" fill="#e7e419"/><rect x="409" y="185" width="6" height="2" fill="#e7e419"/><rect x="409" y="182" width="6" height="3" fill="#eae51a"/><rect x="409" y="180" width="6" height="2" fill="#eae51a"/><rect x="409" y="178" width="6" height="2" fill="#eae51a"/><rect x="409" y="149" width="6" height="17" fill="#eae51a"/><rect x="409" y="134" width="6" height="3" fill="#eae51a"/><rect x="409" y="125" width="6" height="5" fill="#d2e21b"/><rect x="409" y="122" width="6" height="3" fill="#e5e419"/><rect x="409" y="118" width="6" height="2" fill="#e5e419"/><rect x="409" y="106" width="6" height="4" fill="#eae51a"/><rect x="415" y="221" width="5" height="2" fill="#eae51a"/><rect x="415" y="218" width="5" height="3" fill="#c8e020"/><rect x="415" y="216" width="5" height="2" fill="#21908d"/><rect x="415" y="214" width="5" height="2" fill="#470d60"/><rect x="415" y="211" width="5" height="3" fill="#414487"/><rect x="415" y="209" width="5" height="2" fill="#1fa188"/><rect x="415" y="206" width="5" height="3" fill="#90d743"/><rect x="415" y="204" width="5" height="2" fill="#bddf26"/><rect x="415" y="202" width="5" height="2" fill="#c8e020"/><rect x="415" y="199" width="5" height="3" fill="#d0e11c"/><rect x="415" y="197" width="5" height="2" fill="#d8e219"/><rect x="415" y="194" width="5" height="3" fill="#dde318"/><rect x="415" y="192" width="5" height="2" fill="#e2e418"/><rect x="415" y="190" width="5" height="2" fill="#e5e419"/><rect x="415" y="187" width="5" height="3" fill="#e7e419"/><rect x="415" y="185" width="5" height="2" fill="#e7e419"/><rect x="415" y="182" width="5" height="3" fill="#eae51a"/><rect x="415" y="180" width="5" height="2" fill="#eae51a"/><rect x="415" y="178" width="5" height="2" fill="#eae51a"/><rect x="415" y="175" width="5" height="3" fill="#eae51a"/><rect x="415" y="149" width="5" height="17" fill="#eae51a"/><rect x="415" y="134" width="5" height="5" fill="#eae51a"/><rect x="415" y="130" width="5" height="2" fill="#dfe318"/><rect x="415" y="125" width="5" height="5" fill="#d2e21b"/><rect x="415" y="118" width="5" height="7" fill="#e5e419"/><rect x="415" y="106" width="5" height="4" fill="#eae51a"/><rect x="420" y="216" width="6" height="2" fill="#c8e020"/><rect x="420" y="214" width="6" height="2" fill="#21908d"/><rect x="420" y="211" width="6" height="3" fill="#470d60"/><rect x="420" y="209" width="6" height="2" fill="#414487"/><rect x="420" y="206" width="6" height="3" fill="#1fa188"/><rect x="420" y="204" width="6" height="2" fill="#90d743"/><rect x="420" y="202" width="6" height="2" fill="#bddf26"/><rect x="420" y="199" width="6" height="3" fill="#c8e020"/><rect x="420" y="197" width="6" height="2" fill="#d2e21b"/><rect x="420" y="194" width="6" height="3" fill="#d8e219"/><rect x="420" y="192" width="6" height="2" fill="#dfe318"/><rect x="420" y="190" width="6" height="2" fill="#e2e418"/><rect x="420" y="187" width="6" height="3" fill="#e5e419"/><rect x="420" y="185" width="6" height="2" fill="#e7e419"/><rect x="420" y="182" width="6" height="3" fill="#eae51a"/><rect x="420" y="180" width="6" height="2" fill="#eae51a"/><rect x="420" y="178" width="6" height="2" fill="#eae51a"/><rect x="420" y="175" width="6" height="3" fill="#eae51a"/><rect x="420" y="149" width="6" height="17" fill="#eae51a"/><rect x="420" y="132" width="6" height="7" fill="#eae51a"/><rect x="420" y="130" width="6" height="2" fill="#dfe318"/><rect x="420" y="125" width="6" height="5" fill="#d2e21b"/><rect x="420" y="118" width="6" height="4" fill="#e5e419"/><rect x="420" y="106" width="6" height="4" fill="#eae51a"/><rect x="426" y="216" width="6" height="2" fill="#c8e020"/><rect x="426" y="214" width="6" height="2" fill="#21908d"/><rect x="426" y="211" width="6" height="3" fill="#470d60"/><rect x="426" y="209" width="6" height="2" fill="#414487"/><rect x="426" y="206" width="6" height="3" fill="#1fa188"/><rect x="426" y="204" width="6" height="2" fill="#90d743"/><rect x="426" y="202" width="6" height="2" fill="#bddf26"/><rect x="426" y="199" width="6" height="3" fill="#c8e020"/><rect x="426" y="197" width="6" height="2" fill="#d2e21b"/><rect x="426" y="194" width="6" height="3" fill="#d8e219"/><rect x="426" y="192" width="6" height="2" fill="#dfe318"/><rect x="426" y="190" width="6" height="2" fill="#e2e418"/><rect x="426" y="187" width="6" height="3" fill="#e5e419"/><rect x="426" y="185" width="6" height="2" fill="#e7e419"/><rect x="426" y="182" width="6" height="3" fill="#eae51a"/><rect x="426" y="180" width="6" height="2" fill="#eae51a"/><rect x="426" y="178" width="6" height="2" fill="#eae51a"/><rect x="426" y="173" width="6" height="5" fill="#eae51a"/><rect x="426" y="149" width="6" height="17" fill="#eae51a"/><rect x="426" y="132" width="6" height="7" fill="#eae51a"/><rect x="426" y="130" width="6" height="2" fill="#dfe318"/><rect x="426" y="125" width="6" height="5" fill="#d2e21b"/><rect x="426" y="118" width="6" height="4" fill="#e5e419"/><rect x="426" y="106" width="6" height="4" fill="#eae51a"/><rect x="432" y="216" width="6" height="2" fill="#c8e020"/><rect x="432" y="214" width="6" height="2" fill="#21908d"/><rect x="432" y="211" width="6" height="3" fill="#470d60"/><rect x="432" y="209" width="6" height="2" fill="#414487"/><rect x="432" y="206" width="6" height="3" fill="#1fa188"/><rect x="432" y="204" width="6" height="2" fill="#90d743"/><rect x="432" y="202" width="6" height="2" fill="#bddf26"/><rect x="432" y="199" width="6" height="3" fill="#c8e020"/><rect x="432" y="197" width="6" height="2" fill="#d2e21b"/><rect x="432" y="194" width="6" height="3" fill="#d8e219"/><rect x="432" y="192" width="6" height="2" fill="#dfe318"/><rect x="432" y="190" width="6" height="2" fill="#e2e418"/><rect x="432" y="187" width="6" height="3" fill="#e5e419"/><rect x="432" y="185" width="6" height="2" fill="#e7e419"/><rect x="432" y="182" width="6" height="3" fill="#eae51a"/><rect x="432" y="180" width="6" height="2" fill="#eae51a"/><rect x="432" y="178" width="6" height="2" fill="#eae51a"/><rect x="432" y="173" width="6" height="5" fill="#eae51a"/><rect x="432" y="149" width="6" height="17" fill="#eae51a"/><rect x="432" y="134" width="6" height="5" fill="#eae51a"/><rect x="432" y="130" width="6" height="2" fill="#dfe318"/><rect x="432" y="125" width="6" height="5" fill="#d2e21b"/><rect x="432" y="118" width="6" height="7" fill="#e5e419"/><rect x="432" y="106" width="6" height="4" fill="#eae51a"/><rect x="438" y="216" width="5" height="2" fill="#c8e020"/><rect x="438" y="214" width="5" height="2" fill="#21908d"/><rect x="438" y="211" width="5" height="3" fill="#470d60"/><rect x="438" y="209" width="5" height="2" fill="#414487"/><rect x="438" y="206" width="5" height="3" fill="#1fa188"/><rect x="438" y="204" width="5" height="2" fill="#90d743"/><rect x="438" y="202" width="5" height="2" fill="#bddf26"/><rect x="438" y="199" width="5" height="3" fill="#c8e020"/><rect x="438" y="197" width="5" height="2" fill="#d2e21b"/><rect x="438" y="194" width="5" height="3" fill="#d8e219"/><rect x="438" y="192" width="5" height="2" fill="#dfe318"/><rect x="438" y="190" width="5" height="2" fill="#e2e418"/><rect x="438" y="187" width="5" height="3" fill="#e5e419"/><rect x="438" y="185" width="5" height="2" fill="#e7e419"/><rect x="438" y="182" width="5" height="3" fill="#eae51a"/><rect x="438" y="180" width="5" height="2" fill="#eae51a"/><rect x="438" y="178" width="5" height="2" fill="#eae51a"/><rect x="438" y="175" width="5" height="3" fill="#eae51a"/><rect x="438" y="163" width="5" height="3" fill="#eae51a"/><rect x="438" y="149" width="5" height="12" fill="#eae51a"/><rect x="438" y="134" width="5" height="5" fill="#eae51a"/><rect x="438" y="130" width="5" height="2" fill="#dfe318"/><rect x="438" y="125" width="5" height="5" fill="#d2e21b"/><rect x="438" y="118" width="5" height="7" fill="#e5e419"/><rect x="438" y="106" width="5" height="4" fill="#eae51a"/><rect x="443" y="218" width="6" height="3" fill="#eae51a"/><rect x="443" y="216" width="6" height="2" fill="#c8e020"/><rect x="443" y="214" width="6" height="2" fill="#21908d"/><rect x="443" y="211" width="6" height="3" fill="#470d60"/><rect x="443" y="209" width="6" height="2" fill="#414487"/><rect x="443" y="206" width="6" height="3" fill="#1fa188"/><rect x="443" y="204" width="6" height="2" fill="#90d743"/><rect x="443" y="202" width="6" height="2" fill="#bddf26"/><rect x="443" y="199" width="6" height="3" fill="#c8e020"/><rect x="443" y="197" width="6" height="2" fill="#d2e21b"/><rect x="443" y="194" width="6" height="3" fill="#d8e219"/><rect x="443" y="192" width="6" height="2" fill="#dfe318"/><rect x="443" y="190" width="6" height="2" fill="#e2e418"/><rect x="443" y="187" width="6" height="3" fill="#e5e419"/><rect x="443" y="185" width="6" height="2" fill="#e7e419"/><rect x="443" y="182" width="6" height="3" fill="#eae51a"/><rect x="443" y="180" width="6" height="2" fill="#eae51a"/><rect x="443" y="178" width="6" height="2" fill="#eae51a"/><rect x="443" y="175" width="6" height="3" fill="#eae51a"/><rect x="443" y="163" width="6" height="3" fill="#eae51a"/><rect x="443" y="149" width="6" height="12" fill="#eae51a"/><rect x="443" y="134" width="6" height="3" fill="#eae51a"/><rect x="443" y="130" width="6" height="2" fill="#dfe318"/><rect x="443" y="125" width="6" height="5" fill="#d2e21b"/><rect x="443" y="118" width="6" height="7" fill="#e5e419"/><rect x="443" y="108" width="6" height="2" fill="#eae51a"/><rect x="449" y="218" width="6" height="3" fill="#eae51a"/><rect x="449" y="216" width="6" height="2" fill="#c8e020"/><rect x="449" y="214" width="6" height="2" fill="#21908d"/><rect x="449" y="211" width="6" height="3" fill="#470d60"/><rect x="449" y="209" width="6" height="2" fill="#414487"/><rect x="449" y="206" width="6" height="3" fill="#1fa188"/><rect x="449" y="204" width="6" height="2" fill="#90d743"/><rect x="449" y="202" width="6" height="2" fill="#bddf26"/><rect x="449" y="199" width="6" height="3" fill="#c8e020"/><rect x="449" y="197" width="6" height="2" fill="#d2e21b"/><rect x="449" y="194" width="6" height="3" fill="#d8e219"/><rect x="449" y="192" width="6" height="2" fill="#dfe318"/><rect x="449" y="190" width="6" height="2" fill="#e2e418"/><rect x="449" y="187" width="6" height="3" fill="#e5e419"/><rect x="449" y="185" width="6" height="2" fill="#e7e419"/><rect x="449" y="182" width="6" height="3" fill="#eae51a"/><rect x="449" y="180" width="6" height="2" fill="#eae51a"/><rect x="449" y="178" width="6" height="2" fill="#eae51a"/><rect x="449" y="163" width="6" height="3" fill="#eae51a"/><rect x="449" y="149" width="6" height="12" fill="#eae51a"/><rect x="449" y="134" width="6" height="3" fill="#eae51a"/><rect x="449" y="130" width="6" height="2" fill="#dfe318"/><rect x="449" y="125" width="6" height="5" fill="#d2e21b"/><rect x="449" y="118" width="6" height="7" fill="#e5e419"/><rect x="449" y="108" width="6" height="2" fill="#eae51a"/><rect x="455" y="218" width="6" height="3" fill="#eae51a"/><rect x="455" y="216" width="6" height="2" fill="#c8e020"/><rect x="455" y="214" width="6" height="2" fill="#21908d"/><rect x="455" y="211" width="6" height="3" fill="#470d60"/><rect x="455" y="209" width="6" height="2" fill="#414487"/><rect x="455" y="206" width="6" height="3" fill="#1fa188"/><rect x="455" y="204" width="6" height="2" fill="#90d743"/><rect x="455" y="202" width="6" height="2" fill="#bddf26"/><rect x="455" y="199" width="6" height="3" fill="#c8e020"/><rect x="455" y="197" width="6" height="2" fill="#d2e21b"/><rect x="455" y="194" width="6" height="3" fill="#d8e219"/><rect x="455" y="192" width="6" height="2" fill="#dfe318"/><rect x="455" y="190" width="6" height="2" fill="#e2e418"/><rect x="455" y="187" width="6" height="3" fill="#e5e419"/><rect x="455" y="185" width="6" height="2" fill="#e7e419"/><rect x="455" y="182" width="6" height="3" fill="#eae51a"/><rect x="455" y="180" width="6" height="2" fill="#eae51a"/><rect x="455" y="178" width="6" height="2" fill="#eae51a"/><rect x="455" y="163" width="6" height="3" fill="#eae51a"/><rect x="455" y="149" width="6" height="12" fill="#eae51a"/><rect x="455" y="132" width="6" height="5" fill="#eae51a"/><rect x="455" y="130" width="6" height="2" fill="#dfe318"/><rect x="455" y="125" width="6" height="5" fill="#d2e21b"/><rect x="455" y="118" width="6" height="4" fill="#e5e419"/><rect x="455" y="106" width="6" height="4" fill="#eae51a"/><rect x="461" y="218" width="5" height="3" fill="#eae51a"/><rect x="461" y="216" width="5" height="2" fill="#c8e020"/><rect x="461" y="214" width="5" height="2" fill="#21908d"/><rect x="461" y="211" width="5" height="3" fill="#470d60"/><rect x="461" y="209" width="5" height="2" fill="#414487"/><rect x="461" y="206" width="5" height="3" fill="#1fa188"/><rect x="461" y="204" width="5" height="2" fill="#90d743"/><rect x="461" y="202" width="5" height="2" fill="#bddf26"/><rect x="461" y="199" width="5" height="3" fill="#c8e020"/><rect x="461" y="197" width="5" height="2" fill="#d2e21b"/><rect x="461" y="194" width="5" height="3" fill="#d8e219"/><rect x="461" y="192" width="5" height="2" fill="#dfe318"/><rect x="461" y="190" width="5" height="2" fill="#e2e418"/><rect x="461" y="187" width="5" height="3" fill="#e5e419"/><rect x="461" y="185" width="5" height="2" fill="#e7e419"/><rect x="461" y="182" width="5" height="3" fill="#eae51a"/><rect x="461" y="180" width="5" height="2" fill="#eae51a"/><rect x="461" y="178" width="5" height="2" fill="#eae51a"/><rect x="461" y="149" width="5" height="17" fill="#eae51a"/><rect x="461" y="132" width="5" height="5" fill="#eae51a"/><rect x="461" y="130" width="5" height="2" fill="#dfe318"/><rect x="461" y="125" width="5" height="5" fill="#d2e21b"/><rect x="461" y="118" width="5" height="4" fill="#e5e419"/><rect x="461" y="106" width="5" height="4" fill="#eae51a"/><rect x="466" y="216" width="6" height="2" fill="#c8e020"/><rect x="466" y="214" width="6" height="2" fill="#21908d"/><rect x="466" y="211" width="6" height="3" fill="#470d60"/><rect x="466" y="209" width="6" height="2" fill="#414487"/><rect x="466" y="206" width="6" height="3" fill="#1fa188"/><rect x="466" y="204" width="6" height="2" fill="#90d743"/><rect x="466" y="202" width="6" height="2" fill="#bddf26"/><rect x="466" y="199" width="6" height="3" fill="#c8e020"/><rect x="466" y="197" width="6" height="2" fill="#d2e21b"/><rect x="466" y="194" width="6" height="3" fill="#d8e219"/><rect x="466" y="192" width="6" height="2" fill="#dfe318"/><rect x="466" y="190" width="6" height="2" fill="#e2e418"/><rect x="466" y="187" width="6" height="3" fill="#e5e419"/><rect x="466" y="185" width="6" height="2" fill="#e7e419"/><rect x="466" y="182" width="6" height="3" fill="#eae51a"/><rect x="466" y="180" width="6" height="2" fill="#eae51a"/><rect x="466" y="178" width="6" height="2" fill="#eae51a"/><rect x="466" y="175" width="6" height="3" fill="#eae51a"/><rect x="466" y="149" width="6" height="17" fill="#eae51a"/><rect x="466" y="134" width="6" height="3" fill="#eae51a"/><rect x="466" y="130" width="6" height="2" fill="#dfe318"/><rect x="466" y="125" width="6" height="5" fill="#d2e21b"/><rect x="466" y="118" width="6" height="7" fill="#e5e419"/><rect x="466" y="106" width="6" height="4" fill="#eae51a"/><rect x="472" y="214" width="6" height="2" fill="#21908d"/><rect x="472" y="211" width="6" height="3" fill="#470d60"/><rect x="472" y="209" width="6" height="2" fill="#414487"/><rect x="472" y="206" width="6" height="3" fill="#1fa188"/><rect x="472" y="204" width="6" height="2" fill="#90d743"/><rect x="472" y="202" width="6" height="2" fill="#bddf26"/><rect x="472" y="199" width="6" height="3" fill="#c8e020"/><rect x="472" y="197" width="6" height="2" fill="#d2e21b"/><rect x="472" y="194" width="6" height="3" fill="#d8e219"/><rect x="472" y="192" width="6" height="2" fill="#dfe318"/><rect x="472" y="190" width="6" height="2" fill="#e2e418"/><rect x="472" y="187" width="6" height="3" fill="#e5e419"/><rect x="472" y="185" width="6" height="2" fill="#e7e419"/><rect x="472" y="182" width="6" height="3" fill="#eae51a"/><rect x="472" y="180" width="6" height="2" fill="#eae51a"/><rect x="472" y="178" width="6" height="2" fill="#eae51a"/><rect x="472" y="173" width="6" height="5" fill="#eae51a"/><rect x="472" y="149" width="6" height="17" fill="#eae51a"/><rect x="472" y="134" width="6" height="3" fill="#eae51a"/><rect x="472" y="130" width="6" height="2" fill="#dfe318"/><rect x="472" y="125" width="6" height="5" fill="#d2e21b"/><rect x="472" y="118" width="6" height="7" fill="#e5e419"/><rect x="472" y="106" width="6" height="4" fill="#eae51a"/><rect x="478" y="214" width="6" height="2" fill="#21908d"/><rect x="478" y="211" width="6" height="3" fill="#470d60"/><rect x="478" y="209" width="6" height="2" fill="#414487"/><rect x="478" y="206" width="6" height="3" fill="#1fa188"/><rect x="478" y="204" width="6" height="2" fill="#90d743"/><rect x="478" y="202" width="6" height="2" fill="#bddf26"/><rect x="478" y="199" width="6" height="3" fill="#c8e020"/><rect x="478" y="197" width="6" height="2" fill="#d2e21b"/><rect x="478" y="194" width="6" height="3" fill="#d8e219"/><rect x="478" y="192" width="6" height="2" fill="#dfe318"/><rect x="478" y="190" width="6" height="2" fill="#e2e418"/><rect x="478" y="187" width="6" height="3" fill="#e5e419"/><rect x="478" y="185" width="6" height="2" fill="#e7e419"/><rect x="478" y="182" width="6" height="3" fill="#eae51a"/><rect x="478" y="180" width="6" height="2" fill="#eae51a"/><rect x="478" y="178" width="6" height="2" fill="#eae51a"/><rect x="478" y="173" width="6" height="5" fill="#eae51a"/><rect x="478" y="149" width="6" height="17" fill="#eae51a"/><rect x="478" y="134" width="6" height="3" fill="#eae51a"/><rect x="478" y="130" width="6" height="2" fill="#dfe318"/><rect x="478" y="125" width="6" height="5" fill="#d2e21b"/><rect x="478" y="118" width="6" height="7" fill="#e5e419"/><rect x="478" y="106" width="6" height="4" fill="#eae51a"/><rect x="484" y="214" width="5" height="2" fill="#21908d"/><rect x="484" y="211" width="5" height="3" fill="#470d60"/><rect x="484" y="209" width="5" height="2" fill="#414487"/><rect x="484" y="206" width="5" height="3" fill="#1fa188"/><rect x="484" y="204" width="5" height="2" fill="#90d743"/><rect x="484" y="202" width="5" height="2" fill="#bddf26"/><rect x="484" y="199" width="5" height="3" fill="#c8e020"/><rect x="484" y="197" width="5" height="2" fill="#d2e21b"/><rect x="484" y="194" width="5" height="3" fill="#d8e219"/><rect x="484" y="192" width="5" height="2" fill="#dfe318"/><rect x="484" y="190" width="5" height="2" fill="#e2e418"/><rect x="484" y="187" width="5" height="3" fill="#e5e419"/><rect x="484" y="185" width="5" height="2" fill="#e7e419"/><rect x="484" y="182" width="5" height="3" fill="#eae51a"/><rect x="484" y="180" width="5" height="2" fill="#eae51a"/><rect x="484" y="178" width="5" height="2" fill="#eae51a"/><rect x="484" y="175" width="5" height="3" fill="#eae51a"/><rect x="484" y="149" width="5" height="17" fill="#eae51a"/><rect x="484" y="130" width="5" height="2" fill="#dfe318"/><rect x="484" y="125" width="5" height="5" fill="#d2e21b"/><rect x="484" y="118" width="5" height="7" fill="#e5e419"/><rect x="484" y="106" width="5" height="4" fill="#eae51a"/><rect x="489" y="218" width="6" height="3" fill="#eae51a"/><rect x="489" y="214" width="6" height="2" fill="#21908d"/><rect x="489" y="211" width="6" height="3" fill="#470d60"/><rect x="489" y="209" width="6" height="2" fill="#414487"/><rect x="489" y="206" width="6" height="3" fill="#1fa188"/><rect x="489" y="204" width="6" height="2" fill="#90d743"/><rect x="489" y="202" width="6" height="2" fill="#bddf26"/><rect x="489" y="199" width="6" height="3" fill="#c8e020"/><rect x="489" y="197" width="6" height="2" fill="#d2e21b"/><rect x="489" y="194" width="6" height="3" fill="#d8e219"/><rect x="489" y="192" width="6" height="2" fill="#dfe318"/><rect x="489" y="190" width="6" height="2" fill="#e2e418"/><rect x="489" y="187" width="6" height="3" fill="#e5e419"/><rect x="489" y="185" width="6" height="2" fill="#e7e419"/><rect x="489" y="182" width="6" height="3" fill="#eae51a"/><rect x="489" y="180" width="6" height="2" fill="#eae51a"/><rect x="489" y="178" width="6" height="2" fill="#eae51a"/><rect x="489" y="175" width="6" height="3" fill="#eae51a"/><rect x="489" y="149" width="6" height="17" fill="#eae51a"/><rect x="489" y="130" width="6" height="2" fill="#dfe318"/><rect x="489" y="125" width="6" height="5" fill="#d2e21b"/><rect x="489" y="118" width="6" height="7" fill="#e5e419"/><rect x="489" y="106" width="6" height="4" fill="#eae51a"/><rect x="495" y="218" width="6" height="3" fill="#eae51a"/><rect x="495" y="214" width="6" height="2" fill="#21908d"/><rect x="495" y="211" width="6" height="3" fill="#470d60"/><rect x="495" y="209" width="6" height="2" fill="#414487"/><rect x="495" y="206" width="6" height="3" fill="#1fa188"/><rect x="495" y="204" width="6" height="2" fill="#90d743"/><rect x="495" y="202" width="6" height="2" fill="#bddf26"/><rect x="495" y="199" width="6" height="3" fill="#c8e020"/><rect x="495" y="197" width="6" height="2" fill="#d2e21b"/><rect x="495" y="194" width="6" height="3" fill="#d8e219"/><rect x="495" y="192" width="6" height="2" fill="#dfe318"/><rect x="495" y="190" width="6" height="2" fill="#e2e418"/><rect x="495" y="187" width="6" height="3" fill="#e5e419"/><rect x="495" y="185" width="6" height="2" fill="#e7e419"/><rect x="495" y="182" width="6" height="3" fill="#eae51a"/><rect x="495" y="180" width="6" height="2" fill="#eae51a"/><rect x="495" y="178" width="6" height="2" fill="#eae51a"/><rect x="495" y="175" width="6" height="3" fill="#eae51a"/><rect x="495" y="149" width="6" height="14" fill="#eae51a"/><rect x="495" y="130" width="6" height="2" fill="#dfe318"/><rect x="495" y="125" width="6" height="5" fill="#d2e21b"/><rect x="495" y="118" width="6" height="7" fill="#e5e419"/><rect x="495" y="106" width="6" height="4" fill="#eae51a"/><rect x="501" y="214" width="5" height="2" fill="#21908d"/><rect x="501" y="211" width="5" height="3" fill="#470d60"/><rect x="501" y="209" width="5" height="2" fill="#414487"/><rect x="501" y="206" width="5" height="3" fill="#1fa188"/><rect x="501" y="204" width="5" height="2" fill="#90d743"/><rect x="501" y="202" width="5" height="2" fill="#bddf26"/><rect x="501" y="199" width="5" height="3" fill="#c8e020"/><rect x="501" y="197" width="5" height="2" fill="#d2e21b"/><rect x="501" y="194" width="5" height="3" fill="#d8e219"/><rect x="501" y="192" width="5" height="2" fill="#dfe318"/><rect x="501" y="190" width="5" height="2" fill="#e2e418"/><rect x="501" y="187" width="5" height="3" fill="#e5e419"/><rect x="501" y="185" width="5" height="2" fill="#e7e419"/><rect x="501" y="182" width="5" height="3" fill="#eae51a"/><rect x="501" y="180" width="5" height="2" fill="#eae51a"/><rect x="501" y="178" width="5" height="2" fill="#eae51a"/><rect x="501" y="149" width="5" height="14" fill="#eae51a"/><rect x="501" y="130" width="5" height="2" fill="#dfe318"/><rect x="501" y="125" width="5" height="5" fill="#d2e21b"/><rect x="501" y="118" width="5" height="7" fill="#e5e419"/><rect x="501" y="106" width="5" height="4" fill="#eae51a"/><rect x="506" y="216" width="6" height="2" fill="#c8e020"/><rect x="506" y="214" width="6" height="2" fill="#21908d"/><rect x="506" y="211" width="6" height="3" fill="#470d60"/><rect x="506" y="209" width="6" height="2" fill="#414487"/><rect x="506" y="206" width="6" height="3" fill="#1fa188"/><rect x="506" y="204" width="6" height="2" fill="#90d743"/><rect x="506" y="202" width="6" height="2" fill="#bddf26"/><rect x="506" y="199" width="6" height="3" fill="#c8e020"/><rect x="506" y="197" width="6" height="2" fill="#d2e21b"/><rect x="506" y="194" width="6" height="3" fill="#d8e219"/><rect x="506" y="192" width="6" height="2" fill="#dfe318"/><rect x="506" y="190" width="6" height="2" fill="#e2e418"/><rect x="506" y="187" width="6" height="3" fill="#e5e419"/><rect x="506" y="185" width="6" height="2" fill="#e7e419"/><rect x="506" y="182" width="6" height="3" fill="#eae51a"/><rect x="506" y="180" width="6" height="2" fill="#eae51a"/><rect x="506" y="178" width="6" height="2" fill="#eae51a"/><rect x="506" y="149" width="6" height="14" fill="#eae51a"/><rect x="506" y="130" width="6" height="2" fill="#dfe318"/><rect x="506" y="125" width="6" height="5" fill="#d2e21b"/><rect x="506" y="118" width="6" height="7" fill="#e5e419"/><rect x="506" y="106" width="6" height="4" fill="#eae51a"/><rect x="512" y="216" width="6" height="2" fill="#eae51a"/><rect x="512" y="211" width="6" height="3" fill="#21908d"/><rect x="512" y="209" width="6" height="2" fill="#470d60"/><rect x="512" y="206" width="6" height="3" fill="#414487"/><rect x="512" y="204" width="6" height="2" fill="#1fa188"/><rect x="512" y="202" width="6" height="2" fill="#90d743"/><rect x="512" y="199" width="6" height="3" fill="#bddf26"/><rect x="512" y="197" width="6" height="2" fill="#cae11f"/><rect x="512" y="194" width="6" height="3" fill="#d2e21b"/><rect x="512" y="192" width="6" height="2" fill="#dae319"/><rect x="512" y="190" width="6" height="2" fill="#dfe318"/><rect x="512" y="187" width="6" height="3" fill="#e5e419"/><rect x="512" y="185" width="6" height="2" fill="#e7e419"/><rect x="512" y="182" width="6" height="3" fill="#eae51a"/><rect x="512" y="180" width="6" height="2" fill="#eae51a"/><rect x="512" y="178" width="6" height="2" fill="#eae51a"/><rect x="512" y="149" width="6" height="14" fill="#eae51a"/><rect x="512" y="130" width="6" height="2" fill="#dfe318"/><rect x="512" y="125" width="6" height="5" fill="#d2e21b"/><rect x="512" y="118" width="6" height="7" fill="#e5e419"/><rect x="512" y="106" width="6" height="4" fill="#eae51a"/><rect x="518" y="214" width="6" height="2" fill="#c8e020"/><rect x="518" y="211" width="6" height="3" fill="#21908d"/><rect x="518" y="209" width="6" height="2" fill="#470d60"/><rect x="518" y="206" width="6" height="3" fill="#414487"/><rect x="518" y="204" width="6" height="2" fill="#1fa188"/><rect x="518" y="202" width="6" height="2" fill="#90d743"/><rect x="518" y="199" width="6" height="3" fill="#bddf26"/><rect x="518" y="197" width="6" height="2" fill="#cae11f"/><rect x="518" y="194" width="6" height="3" fill="#d2e21b"/><rect x="518" y="192" width="6" height="2" fill="#dae319"/><rect x="518" y="190" width="6" height="2" fill="#dfe318"/><rect x="518" y="187" width="6" height="3" fill="#e5e419"/><rect x="518" y="185" width="6" height="2" fill="#e7e419"/><rect x="518" y="182" width="6" height="3" fill="#eae51a"/><rect x="518" y="180" width="6" height="2" fill="#eae51a"/><rect x="518" y="178" width="6" height="2" fill="#eae51a"/><rect x="518" y="175" width="6" height="3" fill="#eae51a"/><rect x="518" y="149" width="6" height="17" fill="#eae51a"/><rect x="518" y="130" width="6" height="2" fill="#dfe318"/><rect x="518" y="125" width="6" height="5" fill="#d2e21b"/><rect x="518" y="118" width="6" height="7" fill="#e5e419"/><rect x="518" y="106" width="6" height="7" fill="#eae51a"/><rect x="524" y="214" width="5" height="2" fill="#c8e020"/><rect x="524" y="211" width="5" height="3" fill="#21908d"/><rect x="524" y="209" width="5" height="2" fill="#470d60"/><rect x="524" y="206" width="5" height="3" fill="#414487"/><rect x="524" y="204" width="5" height="2" fill="#1fa188"/><rect x="524" y="202" width="5" height="2" fill="#90d743"/><rect x="524" y="199" width="5" height="3" fill="#bddf26"/><rect x="524" y="197" width="5" height="2" fill="#cae11f"/><rect x="524" y="194" width="5" height="3" fill="#d2e21b"/><rect x="524" y="192" width="5" height="2" fill="#dae319"/><rect x="524" y="190" width="5" height="2" fill="#dfe318"/><rect x="524" y="187" width="5" height="3" fill="#e5e419"/><rect x="524" y="185" width="5" height="2" fill="#e7e419"/><rect x="524" y="182" width="5" height="3" fill="#eae51a"/><rect x="524" y="180" width="5" height="2" fill="#eae51a"/><rect x="524" y="178" width="5" height="2" fill="#eae51a"/><rect x="524" y="175" width="5" height="3" fill="#eae51a"/><rect x="524" y="149" width="5" height="17" fill="#eae51a"/><rect x="524" y="132" width="5" height="2" fill="#eae51a"/><rect x="524" y="130" width="5" height="2" fill="#dfe318"/><rect x="524" y="125" width="5" height="5" fill="#d2e21b"/><rect x="524" y="118" width="5" height="7" fill="#e5e419"/><rect x="524" y="106" width="5" height="7" fill="#eae51a"/><rect x="529" y="211" width="6" height="3" fill="#c8e020"/><rect x="529" y="209" width="6" height="2" fill="#21908d"/><rect x="529" y="206" width="6" height="3" fill="#470d60"/><rect x="529" y="204" width="6" height="2" fill="#414487"/><rect x="529" y="202" width="6" height="2" fill="#1fa188"/><rect x="529" y="199" width="6" height="3" fill="#90d743"/><rect x="529" y="197" width="6" height="2" fill="#bddf26"/><rect x="529" y="194" width="6" height="3" fill="#cae11f"/><rect x="529" y="192" width="6" height="2" fill="#d5e21a"/><rect x="529" y="190" width="6" height="2" fill="#dde318"/><rect x="529" y="187" width="6" height="3" fill="#e2e418"/><rect x="529" y="185" width="6" height="2" fill="#e5e419"/><rect x="529" y="182" width="6" height="3" fill="#e7e419"/><rect x="529" y="180" width="6" height="2" fill="#eae51a"/><rect x="529" y="178" width="6" height="2" fill="#eae51a"/><rect x="529" y="175" width="6" height="3" fill="#eae51a"/><rect x="529" y="170" width="6" height="3" fill="#eae51a"/><rect x="529" y="149" width="6" height="12" fill="#eae51a"/><rect x="529" y="132" width="6" height="2" fill="#eae51a"/><rect x="529" y="130" width="6" height="2" fill="#dfe318"/><rect x="529" y="125" width="6" height="5" fill="#d2e21b"/><rect x="529" y="118" width="6" height="7" fill="#e5e419"/><rect x="529" y="106" width="6" height="7" fill="#eae51a"/><rect x="535" y="214" width="6" height="2" fill="#eae51a"/><rect x="535" y="211" width="6" height="3" fill="#c8e020"/><rect x="535" y="209" width="6" height="2" fill="#21908d"/><rect x="535" y="206" width="6" height="3" fill="#470d60"/><rect x="535" y="204" width="6" height="2" fill="#414487"/><rect x="535" y="202" width="6" height="2" fill="#1fa188"/><rect x="535" y="199" width="6" height="3" fill="#90d743"/><rect x="535" y="197" width="6" height="2" fill="#bddf26"/><rect x="535" y="194" width="6" height="3" fill="#cae11f"/><rect x="535" y="192" width="6" height="2" fill="#d5e21a"/><rect x="535" y="190" width="6" height="2" fill="#dde318"/><rect x="535" y="187" width="6" height="3" fill="#e2e418"/><rect x="535" y="185" width="6" height="2" fill="#e5e419"/><rect x="535" y="182" width="6" height="3" fill="#e7e419"/><rect x="535" y="180" width="6" height="2" fill="#eae51a"/><rect x="535" y="178" width="6" height="2" fill="#eae51a"/><rect x="535" y="175" width="6" height="3" fill="#eae51a"/><rect x="535" y="170" width="6" height="3" fill="#eae51a"/><rect x="535" y="149" width="6" height="9" fill="#eae51a"/><rect x="535" y="132" width="6" height="2" fill="#eae51a"/><rect x="535" y="130" width="6" height="2" fill="#dfe318"/><rect x="535" y="125" width="6" height="5" fill="#d2e21b"/><rect x="535" y="118" width="6" height="7" fill="#e5e419"/><rect x="535" y="106" width="6" height="7" fill="#eae51a"/><rect x="541" y="214" width="6" height="2" fill="#eae51a"/><rect x="541" y="211" width="6" height="3" fill="#c8e020"/><rect x="541" y="209" width="6" height="2" fill="#21908d"/><rect x="541" y="206" width="6" height="3" fill="#470d60"/><rect x="541" y="204" width="6" height="2" fill="#414487"/><rect x="541" y="202" width="6" height="2" fill="#1fa188"/><rect x="541" y="199" width="6" height="3" fill="#90d743"/><rect x="541" y="197" width="6" height="2" fill="#bddf26"/><rect x="541" y="194" width="6" height="3" fill="#cae11f"/><rect x="541" y="192" width="6" height="2" fill="#d5e21a"/><rect x="541" y="190" width="6" height="2" fill="#dde318"/><rect x="541" y="187" width="6" height="3" fill="#e2e418"/><rect x="541" y="185" width="6" height="2" fill="#e5e419"/><rect x="541" y="182" width="6" height="3" fill="#e7e419"/><rect x="541" y="180" width="6" height="2" fill="#eae51a"/><rect x="541" y="178" width="6" height="2" fill="#eae51a"/><rect x="541" y="170" width="6" height="8" fill="#eae51a"/><rect x="541" y="149" width="6" height="9" fill="#eae51a"/><rect x="541" y="132" width="6" height="5" fill="#eae51a"/><rect x="541" y="130" width="6" height="2" fill="#dfe318"/><rect x="541" y="127" width="6" height="3" fill="#d2e21b"/><rect x="541" y="118" width="6" height="7" fill="#e5e419"/><rect x="541" y="106" width="6" height="7" fill="#eae51a"/><rect x="547" y="214" width="5" height="2" fill="#eae51a"/><rect x="547" y="211" width="5" height="3" fill="#c8e020"/><rect x="547" y="209" width="5" height="2" fill="#21908d"/><rect x="547" y="206" width="5" height="3" fill="#470d60"/><rect x="547" y="204" width="5" height="2" fill="#414487"/><rect x="547" y="202" width="5" height="2" fill="#1fa188"/><rect x="547" y="199" width="5" height="3" fill="#90d743"/><rect x="547" y="197" width="5" height="2" fill="#bddf26"/><rect x="547" y="194" width="5" height="3" fill="#cae11f"/><rect x="547" y="192" width="5" height="2" fill="#d5e21a"/><rect x="547" y="190" width="5" height="2" fill="#dde318"/><rect x="547" y="187" width="5" height="3" fill="#e2e418"/><rect x="547" y="185" width="5" height="2" fill="#e5e419"/><rect x="547" y="182" width="5" height="3" fill="#e7e419"/><rect x="547" y="180" width="5" height="2" fill="#eae51a"/><rect x="547" y="178" width="5" height="2" fill="#eae51a"/><rect x="547" y="170" width="5" height="8" fill="#eae51a"/><rect x="547" y="149" width="5" height="9" fill="#eae51a"/><rect x="547" y="134" width="5" height="3" fill="#eae51a"/><rect x="547" y="130" width="5" height="2" fill="#dfe318"/><rect x="547" y="127" width="5" height="3" fill="#d2e21b"/><rect x="547" y="118" width="5" height="7" fill="#e5e419"/><rect x="547" y="106" width="5" height="4" fill="#eae51a"/><rect x="552" y="211" width="6" height="3" fill="#eae51a"/><rect x="552" y="206" width="6" height="3" fill="#21908d"/><rect x="552" y="204" width="6" height="2" fill="#470d60"/><rect x="552" y="202" width="6" height="2" fill="#414487"/><rect x="552" y="199" width="6" height="3" fill="#1fa188"/><rect x="552" y="197" width="6" height="2" fill="#90d743"/><rect x="552" y="194" width="6" height="3" fill="#bddf26"/><rect x="552" y="192" width="6" height="2" fill="#cde11d"/><rect x="552" y="190" width="6" height="2" fill="#d8e219"/><rect x="552" y="187" width="6" height="3" fill="#dfe318"/><rect x="552" y="185" width="6" height="2" fill="#e5e419"/><rect x="552" y="182" width="6" height="3" fill="#e7e419"/><rect x="552" y="180" width="6" height="2" fill="#eae51a"/><rect x="552" y="178" width="6" height="2" fill="#eae51a"/><rect x="552" y="173" width="6" height="5" fill="#eae51a"/><rect x="552" y="149" width="6" height="9" fill="#eae51a"/><rect x="552" y="134" width="6" height="3" fill="#eae51a"/><rect x="552" y="127" width="6" height="3" fill="#d2e21b"/><rect x="552" y="118" width="6" height="7" fill="#e5e419"/><rect x="552" y="106" width="6" height="4" fill="#eae51a"/><rect x="558" y="209" width="6" height="2" fill="#c8e020"/><rect x="558" y="206" width="6" height="3" fill="#21908d"/><rect x="558" y="204" width="6" height="2" fill="#470d60"/><rect x="558" y="202" width="6" height="2" fill="#414487"/><rect x="558" y="199" width="6" height="3" fill="#1fa188"/><rect x="558" y="197" width="6" height="2" fill="#90d743"/><rect x="558" y="194" width="6" height="3" fill="#bddf26"/><rect x="558" y="192" width="6" height="2" fill="#cde11d"/><rect x="558" y="190" width="6" height="2" fill="#d8e219"/><rect x="558" y="187" width="6" height="3" fill="#dfe318"/><rect x="558" y="185" width="6" height="2" fill="#e5e419"/><rect x="558" y="182" width="6" height="3" fill="#e7e419"/><rect x="558" y="180" width="6" height="2" fill="#eae51a"/><rect x="558" y="178" width="6" height="2" fill="#eae51a"/><rect x="558" y="173" width="6" height="5" fill="#eae51a"/><rect x="558" y="149" width="6" height="9" fill="#eae51a"/><rect x="558" y="134" width="6" height="3" fill="#eae51a"/><rect x="558" y="125" width="6" height="5" fill="#d2e21b"/><rect x="558" y="120" width="6" height="5" fill="#e5e419"/><rect x="558" y="106" width="6" height="4" fill="#eae51a"/><rect x="564" y="209" width="6" height="2" fill="#c8e020"/><rect x="564" y="206" width="6" height="3" fill="#21908d"/><rect x="564" y="204" width="6" height="2" fill="#470d60"/><rect x="564" y="202" width="6" height="2" fill="#414487"/><rect x="564" y="199" width="6" height="3" fill="#1fa188"/><rect x="564" y="197" width="6" height="2" fill="#90d743"/><rect x="564" y="194" width="6" height="3" fill="#bddf26"/><rect x="564" y="192" width="6" height="2" fill="#cde11d"/><rect x="564" y="190" width="6" height="2" fill="#d8e219"/><rect x="564" y="187" width="6" height="3" fill="#dfe318"/><rect x="564" y="185" width="6" height="2" fill="#e5e419"/><rect x="564" y="182" width="6" height="3" fill="#e7e419"/><rect x="564" y="180" width="6" height="2" fill="#eae51a"/><rect x="564" y="178" width="6" height="2" fill="#eae51a"/><rect x="564" y="175" width="6" height="3" fill="#eae51a"/><rect x="564" y="149" width="6" height="9" fill="#eae51a"/><rect x="564" y="134" width="6" height="3" fill="#eae51a"/><rect x="564" y="130" width="6" height="2" fill="#dfe318"/><rect x="564" y="125" width="6" height="5" fill="#d2e21b"/><rect x="564" y="122" width="6" height="3" fill="#e5e419"/><rect x="564" y="106" width="6" height="4" fill="#eae51a"/><rect x="570" y="206" width="5" height="3" fill="#21908d"/><rect x="570" y="204" width="5" height="2" fill="#470d60"/><rect x="570" y="202" width="5" height="2" fill="#414487"/><rect x="570" y="199" width="5" height="3" fill="#1fa188"/><rect x="570" y="197" width="5" height="2" fill="#90d743"/><rect x="570" y="194" width="5" height="3" fill="#bddf26"/><rect x="570" y="192" width="5" height="2" fill="#cde11d"/><rect x="570" y="190" width="5" height="2" fill="#d8e219"/><rect x="570" y="187" width="5" height="3" fill="#dfe318"/><rect x="570" y="185" width="5" height="2" fill="#e5e419"/><rect x="570" y="182" width="5" height="3" fill="#e7e419"/><rect x="570" y="180" width="5" height="2" fill="#eae51a"/><rect x="570" y="178" width="5" height="2" fill="#eae51a"/><rect x="570" y="149" width="5" height="9" fill="#eae51a"/><rect x="570" y="130" width="5" height="2" fill="#dfe318"/><rect x="570" y="125" width="5" height="5" fill="#d2e21b"/><rect x="570" y="122" width="5" height="3" fill="#e5e419"/><rect x="570" y="108" width="5" height="2" fill="#eae51a"/><rect x="575" y="206" width="6" height="3" fill="#c8e020"/><rect x="575" y="204" width="6" height="2" fill="#21908d"/><rect x="575" y="202" width="6" height="2" fill="#470d60"/><rect x="575" y="199" width="6" height="3" fill="#414487"/><rect x="575" y="197" width="6" height="2" fill="#1fa188"/><rect x="575" y="194" width="6" height="3" fill="#90d743"/><rect x="575" y="192" width="6" height="2" fill="#bddf26"/><rect x="575" y="190" width="6" height="2" fill="#cde11d"/><rect x="575" y="187" width="6" height="3" fill="#dae319"/><rect x="575" y="185" width="6" height="2" fill="#e2e418"/><rect x="575" y="182" width="6" height="3" fill="#e7e419"/><rect x="575" y="180" width="6" height="2" fill="#eae51a"/><rect x="575" y="178" width="6" height="2" fill="#eae51a"/><rect x="575" y="173" width="6" height="2" fill="#eae51a"/><rect x="575" y="163" width="6" height="3" fill="#eae51a"/><rect x="575" y="149" width="6" height="9" fill="#eae51a"/><rect x="575" y="130" width="6" height="2" fill="#dfe318"/><rect x="575" y="125" width="6" height="5" fill="#d2e21b"/><rect x="575" y="120" width="6" height="5" fill="#e5e419"/><rect x="575" y="108" width="6" height="2" fill="#eae51a"/><rect x="581" y="206" width="6" height="3" fill="#c8e020"/><rect x="581" y="204" width="6" height="2" fill="#21908d"/><rect x="581" y="202" width="6" height="2" fill="#470d60"/><rect x="581" y="199" width="6" height="3" fill="#414487"/><rect x="581" y="197" width="6" height="2" fill="#1fa188"/><rect x="581" y="194" width="6" height="3" fill="#90d743"/><rect x="581" y="192" width="6" height="2" fill="#bddf26"/><rect x="581" y="190" width="6" height="2" fill="#cde11d"/><rect x="581" y="187" width="6" height="3" fill="#dae319"/><rect x="581" y="185" width="6" height="2" fill="#e2e418"/><rect x="581" y="182" width="6" height="3" fill="#e7e419"/><rect x="581" y="180" width="6" height="2" fill="#eae51a"/><rect x="581" y="178" width="6" height="2" fill="#eae51a"/><rect x="581" y="173" width="6" height="2" fill="#eae51a"/><rect x="581" y="163" width="6" height="3" fill="#eae51a"/><rect x="581" y="149" width="6" height="9" fill="#eae51a"/><rect x="581" y="130" width="6" height="2" fill="#dfe318"/><rect x="581" y="125" width="6" height="5" fill="#d2e21b"/><rect x="581" y="120" width="6" height="5" fill="#e5e419"/><rect x="581" y="106" width="6" height="4" fill="#eae51a"/><rect x="587" y="206" width="5" height="3" fill="#c8e020"/><rect x="587" y="204" width="5" height="2" fill="#21908d"/><rect x="587" y="202" width="5" height="2" fill="#470d60"/><rect x="587" y="199" width="5" height="3" fill="#414487"/><rect x="587" y="197" width="5" height="2" fill="#1fa188"/><rect x="587" y="194" width="5" height="3" fill="#90d743"/><rect x="587" y="192" width="5" height="2" fill="#bddf26"/><rect x="587" y="190" width="5" height="2" fill="#cde11d"/><rect x="587" y="187" width="5" height="3" fill="#dae319"/><rect x="587" y="185" width="5" height="2" fill="#e2e418"/><rect x="587" y="182" width="5" height="3" fill="#e7e419"/><rect x="587" y="180" width="5" height="2" fill="#eae51a"/><rect x="587" y="178" width="5" height="2" fill="#eae51a"/><rect x="587" y="175" width="5" height="3" fill="#eae51a"/><rect x="587" y="163" width="5" height="3" fill="#eae51a"/><rect x="587" y="149" width="5" height="9" fill="#eae51a"/><rect x="587" y="130" width="5" height="2" fill="#dfe318"/><rect x="587" y="125" width="5" height="5" fill="#d2e21b"/><rect x="587" y="122" width="5" height="3" fill="#e5e419"/><rect x="587" y="118" width="5" height="2" fill="#e5e419"/><rect x="587" y="106" width="5" height="4" fill="#eae51a"/><rect x="592" y="202" width="6" height="2" fill="#21908d"/><rect x="592" y="199" width="6" height="3" fill="#470d60"/><rect x="592" y="197" width="6" height="2" fill="#414487"/><rect x="592" y="194" width="6" height="3" fill="#1fa188"/><rect x="592" y="192" width="6" height="2" fill="#90d743"/><rect x="592" y="190" width="6" height="2" fill="#bddf26"/><rect x="592" y="187" width="6" height="3" fill="#d0e11c"/><rect x="592" y="185" width="6" height="2" fill="#dde318"/><rect x="592" y="182" width="6" height="3" fill="#e5e419"/><rect x="592" y="180" width="6" height="2" fill="#e7e419"/><rect x="592" y="178" width="6" height="2" fill="#eae51a"/><rect x="592" y="175" width="6" height="3" fill="#eae51a"/><rect x="592" y="163" width="6" height="3" fill="#eae51a"/><rect x="592" y="154" width="6" height="4" fill="#eae51a"/><rect x="592" y="149" width="6" height="2" fill="#eae51a"/><rect x="592" y="130" width="6" height="2" fill="#dfe318"/><rect x="592" y="125" width="6" height="5" fill="#d2e21b"/><rect x="592" y="122" width="6" height="3" fill="#e5e419"/><rect x="592" y="118" width="6" height="2" fill="#e5e419"/><rect x="592" y="106" width="6" height="4" fill="#eae51a"/><rect x="598" y="202" width="6" height="2" fill="#21908d"/><rect x="598" y="199" width="6" height="3" fill="#470d60"/><rect x="598" y="197" width="6" height="2" fill="#414487"/><rect x="598" y="194" width="6" height="3" fill="#1fa188"/><rect x="598" y="192" width="6" height="2" fill="#90d743"/><rect x="598" y="190" width="6" height="2" fill="#bddf26"/><rect x="598" y="187" width="6" height="3" fill="#d0e11c"/><rect x="598" y="185" width="6" height="2" fill="#dde318"/><rect x="598" y="182" width="6" height="3" fill="#e5e419"/><rect x="598" y="180" width="6" height="2" fill="#e7e419"/><rect x="598" y="178" width="6" height="2" fill="#eae51a"/><rect x="598" y="175" width="6" height="3" fill="#eae51a"/><rect x="598" y="161" width="6" height="2" fill="#eae51a"/><rect x="598" y="154" width="6" height="4" fill="#eae51a"/><rect x="598" y="149" width="6" height="2" fill="#eae51a"/><rect x="598" y="130" width="6" height="2" fill="#dfe318"/><rect x="598" y="125" width="6" height="5" fill="#d2e21b"/><rect x="598" y="118" width="6" height="7" fill="#e5e419"/><rect x="598" y="106" width="6" height="4" fill="#eae51a"/><rect x="604" y="199" width="6" height="3" fill="#21908d"/><rect x="604" y="197" width="6" height="2" fill="#470d60"/><rect x="604" y="194" width="6" height="3" fill="#414487"/><rect x="604" y="192" width="6" height="2" fill="#1fa188"/><rect x="604" y="190" width="6" height="2" fill="#90d743"/><rect x="604" y="187" width="6" height="3" fill="#bddf26"/><rect x="604" y="185" width="6" height="2" fill="#d2e21b"/><rect x="604" y="182" width="6" height="3" fill="#dfe318"/><rect x="604" y="180" width="6" height="2" fill="#e7e419"/><rect x="604" y="178" width="6" height="2" fill="#eae51a"/><rect x="604" y="175" width="6" height="3" fill="#eae51a"/><rect x="604" y="161" width="6" height="2" fill="#eae51a"/><rect x="604" y="154" width="6" height="4" fill="#eae51a"/><rect x="604" y="149" width="6" height="2" fill="#eae51a"/><rect x="604" y="130" width="6" height="2" fill="#dfe318"/><rect x="604" y="125" width="6" height="5" fill="#d2e21b"/><rect x="604" y="118" width="6" height="7" fill="#e5e419"/><rect x="604" y="106" width="6" height="4" fill="#eae51a"/><rect x="610" y="202" width="5" height="2" fill="#c8e020"/><rect x="610" y="199" width="5" height="3" fill="#21908d"/><rect x="610" y="197" width="5" height="2" fill="#470d60"/><rect x="610" y="194" width="5" height="3" fill="#414487"/><rect x="610" y="192" width="5" height="2" fill="#1fa188"/><rect x="610" y="190" width="5" height="2" fill="#90d743"/><rect x="610" y="187" width="5" height="3" fill="#bddf26"/><rect x="610" y="185" width="5" height="2" fill="#d2e21b"/><rect x="610" y="182" width="5" height="3" fill="#dfe318"/><rect x="610" y="180" width="5" height="2" fill="#e7e419"/><rect x="610" y="178" width="5" height="2" fill="#eae51a"/><rect x="610" y="170" width="5" height="8" fill="#eae51a"/><rect x="610" y="161" width="5" height="2" fill="#eae51a"/><rect x="610" y="149" width="5" height="9" fill="#eae51a"/><rect x="610" y="130" width="5" height="2" fill="#dfe318"/><rect x="610" y="125" width="5" height="5" fill="#d2e21b"/><rect x="610" y="118" width="5" height="7" fill="#e5e419"/><rect x="610" y="106" width="5" height="4" fill="#eae51a"/><rect x="615" y="199" width="6" height="3" fill="#c8e020"/><rect x="615" y="197" width="6" height="2" fill="#21908d"/><rect x="615" y="194" width="6" height="3" fill="#470d60"/><rect x="615" y="192" width="6" height="2" fill="#414487"/><rect x="615" y="190" width="6" height="2" fill="#1fa188"/><rect x="615" y="187" width="6" height="3" fill="#90d743"/><rect x="615" y="185" width="6" height="2" fill="#bddf26"/><rect x="615" y="182" width="6" height="3" fill="#d8e219"/><rect x="615" y="180" width="6" height="2" fill="#e5e419"/><rect x="615" y="178" width="6" height="2" fill="#eae51a"/><rect x="615" y="170" width="6" height="8" fill="#eae51a"/><rect x="615" y="161" width="6" height="2" fill="#eae51a"/><rect x="615" y="149" width="6" height="9" fill="#eae51a"/><rect x="615" y="132" width="6" height="2" fill="#eae51a"/><rect x="615" y="130" width="6" height="2" fill="#dfe318"/><rect x="615" y="125" width="6" height="5" fill="#d2e21b"/><rect x="615" y="118" width="6" height="7" fill="#e5e419"/><rect x="615" y="106" width="6" height="4" fill="#eae51a"/><rect x="621" y="199" width="6" height="3" fill="#c8e020"/><rect x="621" y="197" width="6" height="2" fill="#21908d"/><rect x="621" y="194" width="6" height="3" fill="#470d60"/><rect x="621" y="192" width="6" height="2" fill="#414487"/><rect x="621" y="190" width="6" height="2" fill="#1fa188"/><rect x="621" y="187" width="6" height="3" fill="#90d743"/><rect x="621" y="185" width="6" height="2" fill="#bddf26"/><rect x="621" y="182" width="6" height="3" fill="#d8e219"/><rect x="621" y="180" width="6" height="2" fill="#e5e419"/><rect x="621" y="178" width="6" height="2" fill="#eae51a"/><rect x="621" y="170" width="6" height="5" fill="#eae51a"/><rect x="621" y="161" width="6" height="5" fill="#eae51a"/><rect x="621" y="149" width="6" height="9" fill="#eae51a"/><rect x="621" y="132" width="6" height="2" fill="#eae51a"/><rect x="621" y="130" width="6" height="2" fill="#dfe318"/><rect x="621" y="125" width="6" height="5" fill="#d2e21b"/><rect x="621" y="118" width="6" height="7" fill="#e5e419"/><rect x="621" y="106" width="6" height="4" fill="#eae51a"/><rect x="627" y="199" width="6" height="3" fill="#c8e020"/><rect x="627" y="197" width="6" height="2" fill="#21908d"/><rect x="627" y="194" width="6" height="3" fill="#470d60"/><rect x="627" y="192" width="6" height="2" fill="#414487"/><rect x="627" y="190" width="6" height="2" fill="#1fa188"/><rect x="627" y="187" width="6" height="3" fill="#90d743"/><rect x="627" y="185" width="6" height="2" fill="#bddf26"/><rect x="627" y="182" width="6" height="3" fill="#d2e21b"/><rect x="627" y="180" width="6" height="2" fill="#dfe318"/><rect x="627" y="178" width="6" height="2" fill="#e7e419"/><rect x="627" y="175" width="6" height="3" fill="#eae51a"/><rect x="627" y="170" width="6" height="5" fill="#eae51a"/><rect x="627" y="161" width="6" height="5" fill="#eae51a"/><rect x="627" y="156" width="6" height="2" fill="#eae51a"/><rect x="627" y="149" width="6" height="5" fill="#eae51a"/><rect x="627" y="132" width="6" height="2" fill="#eae51a"/><rect x="627" y="130" width="6" height="2" fill="#dfe318"/><rect x="627" y="125" width="6" height="5" fill="#d2e21b"/><rect x="627" y="118" width="6" height="7" fill="#e5e419"/><rect x="627" y="106" width="6" height="4" fill="#eae51a"/><rect x="633" y="199" width="5" height="3" fill="#c8e020"/><rect x="633" y="197" width="5" height="2" fill="#21908d"/><rect x="633" y="194" width="5" height="3" fill="#470d60"/><rect x="633" y="192" width="5" height="2" fill="#414487"/><rect x="633" y="190" width="5" height="2" fill="#1fa188"/><rect x="633" y="187" width="5" height="3" fill="#90d743"/><rect x="633" y="185" width="5" height="2" fill="#bddf26"/><rect x="633" y="182" width="5" height="3" fill="#d2e21b"/><rect x="633" y="180" width="5" height="2" fill="#dfe318"/><rect x="633" y="178" width="5" height="2" fill="#e7e419"/><rect x="633" y="175" width="5" height="3" fill="#eae51a"/><rect x="633" y="161" width="5" height="5" fill="#eae51a"/><rect x="633" y="156" width="5" height="2" fill="#eae51a"/><rect x="633" y="149" width="5" height="5" fill="#eae51a"/><rect x="633" y="132" width="5" height="2" fill="#eae51a"/><rect x="633" y="125" width="5" height="5" fill="#d2e21b"/><rect x="633" y="122" width="5" height="3" fill="#e5e419"/><rect x="633" y="118" width="5" height="2" fill="#e5e419"/><rect x="633" y="106" width="5" height="7" fill="#eae51a"/><rect x="638" y="197" width="6" height="2" fill="#c8e020"/><rect x="638" y="194" width="6" height="3" fill="#21908d"/><rect x="638" y="192" width="6" height="2" fill="#470d60"/><rect x="638" y="190" width="6" height="2" fill="#414487"/><rect x="638" y="187" width="6" height="3" fill="#1fa188"/><rect x="638" y="185" width="6" height="2" fill="#90d743"/><rect x="638" y="182" width="6" height="3" fill="#bddf26"/><rect x="638" y="180" width="6" height="2" fill="#d8e219"/><rect x="638" y="178" width="6" height="2" fill="#e5e419"/><rect x="638" y="175" width="6" height="3" fill="#eae51a"/><rect x="638" y="161" width="6" height="5" fill="#eae51a"/><rect x="638" y="156" width="6" height="2" fill="#eae51a"/><rect x="638" y="149" width="6" height="5" fill="#eae51a"/><rect x="638" y="132" width="6" height="2" fill="#eae51a"/><rect x="638" y="125" width="6" height="5" fill="#d2e21b"/><rect x="638" y="122" width="6" height="3" fill="#e5e419"/><rect x="638" y="118" width="6" height="2" fill="#e5e419"/><rect x="638" y="106" width="6" height="7" fill="#eae51a"/><rect x="644" y="197" width="6" height="2" fill="#c8e020"/><rect x="644" y="194" width="6" height="3" fill="#21908d"/><rect x="644" y="192" width="6" height="2" fill="#470d60"/><rect x="644" y="190" width="6" height="2" fill="#414487"/><rect x="644" y="187" width="6" height="3" fill="#1fa188"/><rect x="644" y="185" width="6" height="2" fill="#90d743"/><rect x="644" y="182" width="6" height="3" fill="#bddf26"/><rect x="644" y="180" width="6" height="2" fill="#d8e219"/><rect x="644" y="178" width="6" height="2" fill="#e5e419"/><rect x="644" y="175" width="6" height="3" fill="#eae51a"/><rect x="644" y="161" width="6" height="2" fill="#eae51a"/><rect x="644" y="149" width="6" height="9" fill="#eae51a"/><rect x="644" y="132" width="6" height="2" fill="#eae51a"/><rect x="644" y="130" width="6" height="2" fill="#dfe318"/><rect x="644" y="125" width="6" height="5" fill="#d2e21b"/><rect x="644" y="118" width="6" height="7" fill="#e5e419"/><rect x="644" y="106" width="6" height="7" fill="#eae51a"/><rect x="650" y="197" width="6" height="2" fill="#c8e020"/><rect x="650" y="194" width="6" height="3" fill="#21908d"/><rect x="650" y="192" width="6" height="2" fill="#470d60"/><rect x="650" y="190" width="6" height="2" fill="#414487"/><rect x="650" y="187" width="6" height="3" fill="#1fa188"/><rect x="650" y="185" width="6" height="2" fill="#90d743"/><rect x="650" y="182" width="6" height="3" fill="#bddf26"/><rect x="650" y="180" width="6" height="2" fill="#d2e21b"/><rect x="650" y="178" width="6" height="2" fill="#dfe318"/><rect x="650" y="175" width="6" height="3" fill="#e7e419"/><rect x="650" y="173" width="6" height="2" fill="#eae51a"/><rect x="650" y="149" width="6" height="14" fill="#eae51a"/><rect x="650" y="130" width="6" height="2" fill="#dfe318"/><rect x="650" y="125" width="6" height="5" fill="#d2e21b"/><rect x="650" y="118" width="6" height="7" fill="#e5e419"/><rect x="650" y="106" width="6" height="7" fill="#eae51a"/><rect x="656" y="194" width="5" height="3" fill="#c8e020"/><rect x="656" y="192" width="5" height="2" fill="#21908d"/><rect x="656" y="190" width="5" height="2" fill="#470d60"/><rect x="656" y="187" width="5" height="3" fill="#414487"/><rect x="656" y="185" width="5" height="2" fill="#1fa188"/><rect x="656" y="182" width="5" height="3" fill="#90d743"/><rect x="656" y="180" width="5" height="2" fill="#bddf26"/><rect x="656" y="178" width="5" height="2" fill="#d8e219"/><rect x="656" y="175" width="5" height="3" fill="#e5e419"/><rect x="656" y="173" width="5" height="2" fill="#eae51a"/><rect x="656" y="149" width="5" height="14" fill="#eae51a"/><rect x="656" y="134" width="5" height="3" fill="#eae51a"/><rect x="656" y="130" width="5" height="2" fill="#dfe318"/><rect x="656" y="125" width="5" height="5" fill="#d2e21b"/><rect x="656" y="118" width="5" height="7" fill="#e5e419"/><rect x="656" y="106" width="5" height="7" fill="#eae51a"/><rect x="661" y="194" width="6" height="3" fill="#c8e020"/><rect x="661" y="192" width="6" height="2" fill="#21908d"/><rect x="661" y="190" width="6" height="2" fill="#470d60"/><rect x="661" y="187" width="6" height="3" fill="#414487"/><rect x="661" y="185" width="6" height="2" fill="#1fa188"/><rect x="661" y="182" width="6" height="3" fill="#90d743"/><rect x="661" y="180" width="6" height="2" fill="#bddf26"/><rect x="661" y="178" width="6" height="2" fill="#d8e219"/><rect x="661" y="175" width="6" height="3" fill="#e5e419"/><rect x="661" y="173" width="6" height="2" fill="#eae51a"/><rect x="661" y="149" width="6" height="14" fill="#eae51a"/><rect x="661" y="132" width="6" height="5" fill="#eae51a"/><rect x="661" y="130" width="6" height="2" fill="#dfe318"/><rect x="661" y="125" width="6" height="5" fill="#d2e21b"/><rect x="661" y="118" width="6" height="7" fill="#e5e419"/><rect x="661" y="115" width="6" height="3" fill="#eae51a"/><rect x="661" y="106" width="6" height="7" fill="#eae51a"/><rect x="667" y="194" width="6" height="3" fill="#c8e020"/><rect x="667" y="192" width="6" height="2" fill="#21908d"/><rect x="667" y="190" width="6" height="2" fill="#470d60"/><rect x="667" y="187" width="6" height="3" fill="#414487"/><rect x="667" y="185" width="6" height="2" fill="#1fa188"/><rect x="667" y="182" width="6" height="3" fill="#90d743"/><rect x="667" y="180" width="6" height="2" fill="#bddf26"/><rect x="667" y="178" width="6" height="2" fill="#d2e21b"/><rect x="667" y="175" width="6" height="3" fill="#dfe318"/><rect x="667" y="173" width="6" height="2" fill="#e7e419"/><rect x="667" y="170" width="6" height="3" fill="#eae51a"/><rect x="667" y="149" width="6" height="12" fill="#eae51a"/><rect x="667" y="132" width="6" height="5" fill="#eae51a"/><rect x="667" y="130" width="6" height="2" fill="#dfe318"/><rect x="667" y="125" width="6" height="5" fill="#d2e21b"/><rect x="667" y="118" width="6" height="7" fill="#e5e419"/><rect x="667" y="115" width="6" height="3" fill="#eae51a"/><rect x="667" y="106" width="6" height="7" fill="#eae51a"/><rect x="673" y="192" width="5" height="2" fill="#c8e020"/><rect x="673" y="190" width="5" height="2" fill="#21908d"/><rect x="673" y="187" width="5" height="3" fill="#470d60"/><rect x="673" y="185" width="5" height="2" fill="#414487"/><rect x="673" y="182" width="5" height="3" fill="#1fa188"/><rect x="673" y="180" width="5" height="2" fill="#90d743"/><rect x="673" y="178" width="5" height="2" fill="#bddf26"/><rect x="673" y="175" width="5" height="3" fill="#d8e219"/><rect x="673" y="173" width="5" height="2" fill="#e5e419"/><rect x="673" y="170" width="5" height="3" fill="#eae51a"/><rect x="673" y="151" width="5" height="12" fill="#eae51a"/><rect x="673" y="134" width="5" height="3" fill="#eae51a"/><rect x="673" y="130" width="5" height="2" fill="#dfe318"/><rect x="673" y="125" width="5" height="5" fill="#d2e21b"/><rect x="673" y="118" width="5" height="7" fill="#e5e419"/><rect x="673" y="115" width="5" height="3" fill="#eae51a"/><rect x="673" y="106" width="5" height="7" fill="#eae51a"/><rect x="678" y="192" width="6" height="2" fill="#c8e020"/><rect x="678" y="190" width="6" height="2" fill="#21908d"/><rect x="678" y="187" width="6" height="3" fill="#470d60"/><rect x="678" y="185" width="6" height="2" fill="#414487"/><rect x="678" y="182" width="6" height="3" fill="#1fa188"/><rect x="678" y="180" width="6" height="2" fill="#90d743"/><rect x="678" y="178" width="6" height="2" fill="#bddf26"/><rect x="678" y="175" width="6" height="3" fill="#d8e219"/><rect x="678" y="173" width="6" height="2" fill="#e5e419"/><rect x="678" y="170" width="6" height="3" fill="#eae51a"/><rect x="678" y="156" width="6" height="7" fill="#eae51a"/><rect x="678" y="151" width="6" height="3" fill="#eae51a"/><rect x="678" y="146" width="6" height="3" fill="#eae51a"/><rect x="678" y="134" width="6" height="3" fill="#eae51a"/><rect x="678" y="125" width="6" height="5" fill="#d2e21b"/><rect x="678" y="118" width="6" height="7" fill="#e5e419"/><rect x="678" y="106" width="6" height="9" fill="#eae51a"/><rect x="684" y="192" width="6" height="2" fill="#c8e020"/><rect x="684" y="190" width="6" height="2" fill="#21908d"/><rect x="684" y="187" width="6" height="3" fill="#470d60"/><rect x="684" y="185" width="6" height="2" fill="#414487"/><rect x="684" y="182" width="6" height="3" fill="#1fa188"/><rect x="684" y="180" width="6" height="2" fill="#90d743"/><rect x="684" y="178" width="6" height="2" fill="#bddf26"/><rect x="684" y="175" width="6" height="3" fill="#d2e21b"/><rect x="684" y="173" width="6" height="2" fill="#dfe318"/><rect x="684" y="170" width="6" height="3" fill="#e7e419"/><rect x="684" y="168" width="6" height="2" fill="#eae51a"/><rect x="684" y="158" width="6" height="5" fill="#eae51a"/><rect x="684" y="151" width="6" height="3" fill="#eae51a"/><rect x="684" y="146" width="6" height="3" fill="#eae51a"/><rect x="684" y="132" width="6" height="5" fill="#eae51a"/><rect x="684" y="125" width="6" height="5" fill="#d2e21b"/><rect x="684" y="118" width="6" height="7" fill="#e5e419"/><rect x="684" y="106" width="6" height="9" fill="#eae51a"/><rect x="690" y="190" width="6" height="2" fill="#c8e020"/><rect x="690" y="187" width="6" height="3" fill="#21908d"/><rect x="690" y="185" width="6" height="2" fill="#470d60"/><rect x="690" y="182" width="6" height="3" fill="#414487"/><rect x="690" y="180" width="6" height="2" fill="#1fa188"/><rect x="690" y="178" width="6" height="2" fill="#90d743"/><rect x="690" y="175" width="6" height="3" fill="#bddf26"/><rect x="690" y="173" width="6" height="2" fill="#d8e219"/><rect x="690" y="170" width="6" height="3" fill="#e5e419"/><rect x="690" y="168" width="6" height="2" fill="#eae51a"/><rect x="690" y="163" width="6" height="3" fill="#eae51a"/><rect x="690" y="158" width="6" height="3" fill="#eae51a"/><rect x="690" y="146" width="6" height="8" fill="#eae51a"/><rect x="690" y="132" width="6" height="5" fill="#eae51a"/><rect x="690" y="130" width="6" height="2" fill="#dfe318"/><rect x="690" y="125" width="6" height="5" fill="#d2e21b"/><rect x="690" y="118" width="6" height="7" fill="#e5e419"/><rect x="690" y="113" width="6" height="2" fill="#eae51a"/><rect x="690" y="106" width="6" height="4" fill="#eae51a"/><rect x="696" y="190" width="5" height="2" fill="#c8e020"/><rect x="696" y="187" width="5" height="3" fill="#21908d"/><rect x="696" y="185" width="5" height="2" fill="#470d60"/><rect x="696" y="182" width="5" height="3" fill="#414487"/><rect x="696" y="180" width="5" height="2" fill="#1fa188"/><rect x="696" y="178" width="5" height="2" fill="#90d743"/><rect x="696" y="175" width="5" height="3" fill="#bddf26"/><rect x="696" y="173" width="5" height="2" fill="#d8e219"/><rect x="696" y="170" width="5" height="3" fill="#e5e419"/><rect x="696" y="168" width="5" height="2" fill="#eae51a"/><rect x="696" y="163" width="5" height="3" fill="#eae51a"/><rect x="696" y="146" width="5" height="12" fill="#eae51a"/><rect x="696" y="134" width="5" height="3" fill="#eae51a"/><rect x="696" y="130" width="5" height="2" fill="#dfe318"/><rect x="696" y="127" width="5" height="3" fill="#d2e21b"/><rect x="696" y="118" width="5" height="7" fill="#e5e419"/><rect x="696" y="113" width="5" height="2" fill="#eae51a"/><rect x="696" y="106" width="5" height="4" fill="#eae51a"/><rect x="701" y="187" width="6" height="3" fill="#c8e020"/><rect x="701" y="185" width="6" height="2" fill="#21908d"/><rect x="701" y="182" width="6" height="3" fill="#470d60"/><rect x="701" y="180" width="6" height="2" fill="#414487"/><rect x="701" y="178" width="6" height="2" fill="#1fa188"/><rect x="701" y="175" width="6" height="3" fill="#90d743"/><rect x="701" y="173" width="6" height="2" fill="#bddf26"/><rect x="701" y="170" width="6" height="3" fill="#d8e219"/><rect x="701" y="168" width="6" height="2" fill="#e5e419"/><rect x="701" y="166" width="6" height="2" fill="#eae51a"/><rect x="701" y="146" width="6" height="12" fill="#eae51a"/><rect x="701" y="134" width="6" height="3" fill="#eae51a"/><rect x="701" y="130" width="6" height="2" fill="#dfe318"/><rect x="701" y="127" width="6" height="3" fill="#d2e21b"/><rect x="701" y="122" width="6" height="3" fill="#e5e419"/><rect x="701" y="118" width="6" height="2" fill="#e5e419"/><rect x="701" y="113" width="6" height="2" fill="#eae51a"/><rect x="701" y="103" width="6" height="7" fill="#eae51a"/><rect x="707" y="187" width="6" height="3" fill="#c8e020"/><rect x="707" y="185" width="6" height="2" fill="#21908d"/><rect x="707" y="182" width="6" height="3" fill="#470d60"/><rect x="707" y="180" width="6" height="2" fill="#414487"/><rect x="707" y="178" width="6" height="2" fill="#1fa188"/><rect x="707" y="175" width="6" height="3" fill="#90d743"/><rect x="707" y="173" width="6" height="2" fill="#bddf26"/><rect x="707" y="170" width="6" height="3" fill="#d8e219"/><rect x="707" y="168" width="6" height="2" fill="#e5e419"/><rect x="707" y="166" width="6" height="2" fill="#eae51a"/><rect x="707" y="146" width="6" height="12" fill="#eae51a"/><rect x="707" y="132" width="6" height="5" fill="#eae51a"/><rect x="707" y="130" width="6" height="2" fill="#dfe318"/><rect x="707" y="127" width="6" height="3" fill="#d2e21b"/><rect x="707" y="118" width="6" height="2" fill="#e5e419"/><rect x="707" y="103" width="6" height="7" fill="#eae51a"/><rect x="713" y="185" width="6" height="2" fill="#c8e020"/><rect x="713" y="182" width="6" height="3" fill="#21908d"/><rect x="713" y="180" width="6" height="2" fill="#470d60"/><rect x="713" y="178" width="6" height="2" fill="#414487"/><rect x="713" y="175" width="6" height="3" fill="#1fa188"/><rect x="713" y="173" width="6" height="2" fill="#90d743"/><rect x="713" y="170" width="6" height="3" fill="#bddf26"/><rect x="713" y="168" width="6" height="2" fill="#dde318"/><rect x="713" y="166" width="6" height="2" fill="#e7e419"/><rect x="713" y="163" width="6" height="3" fill="#eae51a"/><rect x="713" y="146" width="6" height="12" fill="#eae51a"/><rect x="713" y="132" width="6" height="2" fill="#eae51a"/><rect x="713" y="130" width="6" height="2" fill="#dfe318"/><rect x="713" y="125" width="6" height="5" fill="#d2e21b"/><rect x="713" y="118" width="6" height="4" fill="#e5e419"/><rect x="713" y="103" width="6" height="7" fill="#eae51a"/><rect x="719" y="185" width="5" height="2" fill="#c8e020"/><rect x="719" y="182" width="5" height="3" fill="#21908d"/><rect x="719" y="180" width="5" height="2" fill="#470d60"/><rect x="719" y="178" width="5" height="2" fill="#414487"/><rect x="719" y="175" width="5" height="3" fill="#1fa188"/><rect x="719" y="173" width="5" height="2" fill="#90d743"/><rect x="719" y="170" width="5" height="3" fill="#bddf26"/><rect x="719" y="168" width="5" height="2" fill="#d8e219"/><rect x="719" y="166" width="5" height="2" fill="#e5e419"/><rect x="719" y="163" width="5" height="3" fill="#eae51a"/><rect x="719" y="146" width="5" height="15" fill="#eae51a"/><rect x="719" y="130" width="5" height="2" fill="#dfe318"/><rect x="719" y="125" width="5" height="5" fill="#d2e21b"/><rect x="719" y="118" width="5" height="7" fill="#e5e419"/><rect x="719" y="103" width="5" height="10" fill="#eae51a"/><rect x="724" y="180" width="6" height="2" fill="#21908d"/><rect x="724" y="178" width="6" height="2" fill="#470d60"/><rect x="724" y="175" width="6" height="3" fill="#414487"/><rect x="724" y="173" width="6" height="2" fill="#1fa188"/><rect x="724" y="170" width="6" height="3" fill="#90d743"/><rect x="724" y="168" width="6" height="2" fill="#bddf26"/><rect x="724" y="166" width="6" height="2" fill="#dde318"/><rect x="724" y="163" width="6" height="3" fill="#e7e419"/><rect x="724" y="146" width="6" height="15" fill="#eae51a"/><rect x="724" y="130" width="6" height="2" fill="#dfe318"/><rect x="724" y="125" width="6" height="5" fill="#d2e21b"/><rect x="724" y="122" width="6" height="3" fill="#e5e419"/><rect x="724" y="118" width="6" height="2" fill="#e5e419"/><rect x="724" y="103" width="6" height="10" fill="#eae51a"/><rect x="730" y="180" width="6" height="2" fill="#21908d"/><rect x="730" y="178" width="6" height="2" fill="#470d60"/><rect x="730" y="175" width="6" height="3" fill="#414487"/><rect x="730" y="173" width="6" height="2" fill="#1fa188"/><rect x="730" y="170" width="6" height="3" fill="#90d743"/><rect x="730" y="168" width="6" height="2" fill="#bddf26"/><rect x="730" y="166" width="6" height="2" fill="#dde318"/><rect x="730" y="163" width="6" height="3" fill="#e7e419"/><rect x="730" y="146" width="6" height="15" fill="#eae51a"/><rect x="730" y="137" width="6" height="2" fill="#eae51a"/><rect x="730" y="130" width="6" height="2" fill="#dfe318"/><rect x="730" y="125" width="6" height="5" fill="#d2e21b"/><rect x="730" y="122" width="6" height="3" fill="#e5e419"/><rect x="730" y="118" width="6" height="2" fill="#e5e419"/><rect x="730" y="103" width="6" height="10" fill="#eae51a"/><rect x="736" y="180" width="6" height="2" fill="#c8e020"/><rect x="736" y="178" width="6" height="2" fill="#21908d"/><rect x="736" y="175" width="6" height="3" fill="#470d60"/><rect x="736" y="173" width="6" height="2" fill="#414487"/><rect x="736" y="170" width="6" height="3" fill="#1fa188"/><rect x="736" y="168" width="6" height="2" fill="#90d743"/><rect x="736" y="166" width="6" height="2" fill="#bddf26"/><rect x="736" y="163" width="6" height="3" fill="#dde318"/><rect x="736" y="161" width="6" height="2" fill="#e7e419"/><rect x="736" y="146" width="6" height="15" fill="#eae51a"/><rect x="736" y="137" width="6" height="2" fill="#eae51a"/><rect x="736" y="130" width="6" height="2" fill="#dfe318"/><rect x="736" y="125" width="6" height="5" fill="#d2e21b"/><rect x="736" y="118" width="6" height="7" fill="#e5e419"/><rect x="736" y="103" width="6" height="10" fill="#eae51a"/><rect x="742" y="180" width="5" height="2" fill="#c8e020"/><rect x="742" y="178" width="5" height="2" fill="#21908d"/><rect x="742" y="175" width="5" height="3" fill="#470d60"/><rect x="742" y="173" width="5" height="2" fill="#414487"/><rect x="742" y="170" width="5" height="3" fill="#1fa188"/><rect x="742" y="168" width="5" height="2" fill="#90d743"/><rect x="742" y="166" width="5" height="2" fill="#bddf26"/><rect x="742" y="163" width="5" height="3" fill="#dde318"/><rect x="742" y="161" width="5" height="2" fill="#e7e419"/><rect x="742" y="158" width="5" height="3" fill="#eae51a"/><rect x="742" y="151" width="5" height="5" fill="#eae51a"/><rect x="742" y="146" width="5" height="3" fill="#eae51a"/><rect x="742" y="137" width="5" height="2" fill="#eae51a"/><rect x="742" y="132" width="5" height="2" fill="#eae51a"/><rect x="742" y="130" width="5" height="2" fill="#dfe318"/><rect x="742" y="125" width="5" height="5" fill="#d2e21b"/><rect x="742" y="118" width="5" height="7" fill="#e5e419"/><rect x="742" y="103" width="5" height="10" fill="#eae51a"/><rect x="747" y="178" width="6" height="2" fill="#c8e020"/><rect x="747" y="175" width="6" height="3" fill="#21908d"/><rect x="747" y="173" width="6" height="2" fill="#470d60"/><rect x="747" y="170" width="6" height="3" fill="#414487"/><rect x="747" y="168" width="6" height="2" fill="#1fa188"/><rect x="747" y="166" width="6" height="2" fill="#90d743"/><rect x="747" y="163" width="6" height="3" fill="#bddf26"/><rect x="747" y="161" width="6" height="2" fill="#e5e419"/><rect x="747" y="158" width="6" height="3" fill="#eae51a"/><rect x="747" y="151" width="6" height="5" fill="#eae51a"/><rect x="747" y="146" width="6" height="3" fill="#eae51a"/><rect x="747" y="137" width="6" height="2" fill="#eae51a"/><rect x="747" y="132" width="6" height="2" fill="#eae51a"/><rect x="747" y="130" width="6" height="2" fill="#dfe318"/><rect x="747" y="125" width="6" height="5" fill="#d2e21b"/><rect x="747" y="122" width="6" height="3" fill="#e5e419"/><rect x="747" y="118" width="6" height="2" fill="#e5e419"/><rect x="747" y="103" width="6" height="10" fill="#eae51a"/><rect x="753" y="178" width="3" height="2" fill="#c8e020"/><rect x="753" y="175" width="3" height="3" fill="#21908d"/><rect x="753" y="173" width="3" height="2" fill="#470d60"/><rect x="753" y="170" width="3" height="3" fill="#414487"/><rect x="753" y="168" width="3" height="2" fill="#1fa188"/><rect x="753" y="166" width="3" height="2" fill="#90d743"/><rect x="753" y="163" width="3" height="3" fill="#bddf26"/><rect x="753" y="161" width="3" height="2" fill="#e5e419"/><rect x="753" y="158" width="3" height="3" fill="#eae51a"/><rect x="753" y="151" width="3" height="5" fill="#eae51a"/><rect x="753" y="146" width="3" height="3" fill="#eae51a"/><rect x="753" y="137" width="3" height="2" fill="#eae51a"/><rect x="753" y="132" width="3" height="2" fill="#eae51a"/><rect x="753" y="130" width="3" height="2" fill="#dfe318"/><rect x="753" y="125" width="3" height="2" fill="#d2e21b"/><rect x="753" y="118" width="3" height="2" fill="#e5e419"/><rect x="753" y="103" width="3" height="10" fill="#eae51a"/></g><g stroke="#b0b0b0" stroke-width="1.0"><line x1="154.50" y1="60" x2="154.50" y2="420"/><line x1="181.50" y1="60" x2="181.50" y2="420"/><line x1="200.50" y1="60" x2="200.50" y2="420"/><line x1="215.50" y1="60" x2="215.50" y2="420"/><line x1="227.50" y1="60" x2="227.50" y2="420"/><line x1="237.50" y1="60" x2="237.50" y2="420"/><line x1="246.50" y1="60" x2="246.50" y2="420"/><line x1="253.50" y1="60" x2="253.50" y2="420"/><line x1="260.50" y1="60" x2="260.50" y2="420"/><line x1="306.50" y1="60" x2="306.50" y2="420"/><line x1="333.50" y1="60" x2="333.50" y2="420"/><line x1="352.50" y1="60" x2="352.50" y2="420"/><line x1="367.50" y1="60" x2="367.50" y2="420"/><line x1="379.50" y1="60" x2="379.50" y2="420"/><line x1="389.50" y1="60" x2="389.50" y2="420"/><line x1="398.50" y1="60" x2="398.50" y2="420"/><line x1="406.50" y1="60" x2="406.50" y2="420"/><line x1="413.50" y1="60" x2="413.50" y2="420"/><line x1="459.50" y1="60" x2="459.50" y2="420"/><line x1="485.50" y1="60" x2="485.50" y2="420"/><line x1="504.50" y1="60" x2="504.50" y2="420"/><line x1="519.50" y1="60" x2="519.50" y2="420"/><line x1="531.50" y1="60" x2="531.50" y2="420"/><line x1="542.50" y1="60" x2="542.50" y2="420"/><line x1="550.50" y1="60" x2="550.50" y2="420"/><line x1="558.50" y1="60" x2="558.50" y2="420"/><line x1="565.50" y1="60" x2="565.50" y2="420"/><line x1="611.50" y1="60" x2="611.50" y2="420"/><line x1="638.50" y1="60" x2="638.50" y2="420"/><line x1="657.50" y1="60" x2="657.50" y2="420"/><line x1="672.50" y1="60" x2="672.50" y2="420"/><line x1="684.50" y1="60" x2="684.50" y2="420"/><line x1="694.50" y1="60" x2="694.50" y2="420"/><line x1="703.50" y1="60" x2="703.50" y2="420"/><line x1="711.50" y1="60" x2="711.50" y2="420"/><line x1="717.50" y1="60" x2="717.50" y2="420"/><line x1="108" y1="372.50" x2="756" y2="372.50"/><line x1="108" y1="324.50" x2="756" y2="324.50"/><line x1="108" y1="276.50" x2="756" y2="276.50"/><line x1="108" y1="228.50" x2="756" y2="228.50"/><line x1="108" y1="180.50" x2="756" y2="180.50"/><line x1="108" y1="132.50" x2="756" y2="132.50"/><line x1="108" y1="84.50" x2="756" y2="84.50"/></g><polyline points="260.37,159.60 312.54,173.77 337.34,205.20 397.97,228.00 501.08,175.19 513.72,171.59 534.53,182.40 549.51,212.39 593.68,228.01 610.97,272.39 756.00,249.53" fill="none" stroke="#666666" stroke-width="2.8" stroke-linejoin="round" stroke-linecap="square"/><polyline points="260.37,343.20 295.48,340.08 352.10,340.07 397.97,346.08 426.97,332.87 470.67,296.75 509.26,278.64 519.24,278.63 531.30,297.60 565.10,333.00 577.17,338.99 594.53,329.11 616.98,366.01 641.24,383.99 664.63,390.00 693.87,390.00 718.13,384.00 746.05,383.97 756.00,385.16" fill="none" stroke="#666666" stroke-width="2.8" stroke-linejoin="round" stroke-linecap="square"/><rect x="108.5" y="60.5" width="648" height="360" fill="none" stroke="#000" stroke-width="1.0"/><g stroke="#000" stroke-width="1.0"><line x1="108.50" y1="420" x2="108.50" y2="425.5"/><line x1="154.50" y1="420" x2="154.50" y2="423.3" stroke-width="0.9"/><line x1="181.50" y1="420" x2="181.50" y2="423.3" stroke-width="0.9"/><line x1="200.50" y1="420" x2="200.50" y2="423.3" stroke-width="0.9"/><line x1="215.50" y1="420" x2="215.50" y2="423.3" stroke-width="0.9"/><line x1="227.50" y1="420" x2="227.50" y2="423.3" stroke-width="0.9"/><line x1="237.50" y1="420" x2="237.50" y2="423.3" stroke-width="0.9"/><line x1="246.50" y1="420" x2="246.50" y2="423.3" stroke-width="0.9"/><line x1="253.50" y1="420" x2="253.50" y2="423.3" stroke-width="0.9"/><line x1="260.50" y1="420" x2="260.50" y2="425.5"/><line x1="306.50" y1="420" x2="306.50" y2="423.3" stroke-width="0.9"/><line x1="333.50" y1="420" x2="333.50" y2="423.3" stroke-width="0.9"/><line x1="352.50" y1="420" x2="352.50" y2="423.3" stroke-width="0.9"/><line x1="367.50" y1="420" x2="367.50" y2="423.3" stroke-width="0.9"/><line x1="379.50" y1="420" x2="379.50" y2="423.3" stroke-width="0.9"/><line x1="389.50" y1="420" x2="389.50" y2="423.3" stroke-width="0.9"/><line x1="398.50" y1="420" x2="398.50" y2="423.3" stroke-width="0.9"/><line x1="406.50" y1="420" x2="406.50" y2="423.3" stroke-width="0.9"/><line x1="413.50" y1="420" x2="413.50" y2="425.5"/><line x1="459.50" y1="420" x2="459.50" y2="423.3" stroke-width="0.9"/><line x1="485.50" y1="420" x2="485.50" y2="423.3" stroke-width="0.9"/><line x1="504.50" y1="420" x2="504.50" y2="423.3" stroke-width="0.9"/><line x1="519.50" y1="420" x2="519.50" y2="423.3" stroke-width="0.9"/><line x1="531.50" y1="420" x2="531.50" y2="423.3" stroke-width="0.9"/><line x1="542.50" y1="420" x2="542.50" y2="423.3" stroke-width="0.9"/><line x1="550.50" y1="420" x2="550.50" y2="423.3" stroke-width="0.9"/><line x1="558.50" y1="420" x2="558.50" y2="423.3" stroke-width="0.9"/><line x1="565.50" y1="420" x2="565.50" y2="425.5"/><line x1="611.50" y1="420" x2="611.50" y2="423.3" stroke-width="0.9"/><line x1="638.50" y1="420" x2="638.50" y2="423.3" stroke-width="0.9"/><line x1="657.50" y1="420" x2="657.50" y2="423.3" stroke-width="0.9"/><line x1="672.50" y1="420" x2="672.50" y2="423.3" stroke-width="0.9"/><line x1="684.50" y1="420" x2="684.50" y2="423.3" stroke-width="0.9"/><line x1="694.50" y1="420" x2="694.50" y2="423.3" stroke-width="0.9"/><line x1="703.50" y1="420" x2="703.50" y2="423.3" stroke-width="0.9"/><line x1="711.50" y1="420" x2="711.50" y2="423.3" stroke-width="0.9"/><line x1="717.50" y1="420" x2="717.50" y2="425.5"/><line x1="103" y1="420.50" x2="108" y2="420.50"/><line x1="103" y1="372.50" x2="108" y2="372.50"/><line x1="103" y1="324.50" x2="108" y2="324.50"/><line x1="103" y1="276.50" x2="108" y2="276.50"/><line x1="103" y1="228.50" x2="108" y2="228.50"/><line x1="103" y1="180.50" x2="108" y2="180.50"/><line x1="103" y1="132.50" x2="108" y2="132.50"/><line x1="103" y1="84.50" x2="108" y2="84.50"/></g><defs><linearGradient id="cb" x1="0" y1="1" x2="0" y2="0"><stop offset="0.000" stop-color="#fde725"/><stop offset="0.031" stop-color="#eae51a"/><stop offset="0.062" stop-color="#d5e21a"/><stop offset="0.094" stop-color="#c0df25"/><stop offset="0.125" stop-color="#aadc32"/><stop offset="0.156" stop-color="#95d840"/><stop offset="0.188" stop-color="#81d34d"/><stop offset="0.219" stop-color="#6ece58"/><stop offset="0.250" stop-color="#5cc863"/><stop offset="0.281" stop-color="#4cc26c"/><stop offset="0.312" stop-color="#3dbc74"/><stop offset="0.344" stop-color="#31b57b"/><stop offset="0.375" stop-color="#27ad81"/><stop offset="0.406" stop-color="#21a685"/><stop offset="0.438" stop-color="#1f9f88"/><stop offset="0.469" stop-color="#1f978b"/><stop offset="0.500" stop-color="#21908d"/><stop offset="0.531" stop-color="#23888e"/><stop offset="0.562" stop-color="#26818e"/><stop offset="0.594" stop-color="#29798e"/><stop offset="0.625" stop-color="#2c718e"/><stop offset="0.656" stop-color="#306a8e"/><stop offset="0.688" stop-color="#33628d"/><stop offset="0.719" stop-color="#375a8c"/><stop offset="0.750" stop-color="#3b518b"/><stop offset="0.781" stop-color="#3f4889"/><stop offset="0.812" stop-color="#423f85"/><stop offset="0.844" stop-color="#453581"/><stop offset="0.875" stop-color="#472c7a"/><stop offset="0.906" stop-color="#482173"/><stop offset="0.938" stop-color="#481769"/><stop offset="0.969" stop-color="#460b5e"/><stop offset="1.000" stop-color="#440154"/></linearGradient></defs><rect x="797" y="60" width="18.5" height="360" fill="url(#cb)"/><rect x="797.5" y="60.5" width="18" height="360" fill="none" stroke="#000" stroke-width="1.0"/><g stroke="#000" stroke-width="1.0"><line x1="815.5" y1="420.50" x2="820.5" y2="420.50"/><line x1="815.5" y1="360.50" x2="820.5" y2="360.50"/><line x1="815.5" y1="300.50" x2="820.5" y2="300.50"/><line x1="815.5" y1="240.50" x2="820.5" y2="240.50"/><line x1="815.5" y1="180.50" x2="820.5" y2="180.50"/><line x1="815.5" y1="120.50" x2="820.5" y2="120.50"/><line x1="815.5" y1="60.50" x2="820.5" y2="60.50"/></g><g stroke="#000" stroke-width="0.08"><text x="120.89" y="51.80" font-family="Liberation Sans, sans-serif" font-size="13.9" textLength="621.43" lengthAdjust="spacingAndGlyphs" fill="#000">HL.ANKY.00.HNE | 200.0Hz | 2025-10-31T00:00:00 - 2025-11-05T22:30:00 | 278 segments</text><text x="69.00" y="89.90" font-family="Liberation Sans, sans-serif" font-size="13.9" textLength="28.29" lengthAdjust="spacingAndGlyphs" fill="#000">−60</text><text x="69.00" y="137.90" font-family="Liberation Sans, sans-serif" font-size="13.9" textLength="28.29" lengthAdjust="spacingAndGlyphs" fill="#000">−80</text><text x="61.14" y="185.90" font-family="Liberation Sans, sans-serif" font-size="13.9" textLength="36.20" lengthAdjust="spacingAndGlyphs" fill="#000">−100</text><text x="61.14" y="233.90" font-family="Liberation Sans, sans-serif" font-size="13.9" textLength="36.20" lengthAdjust="spacingAndGlyphs" fill="#000">−120</text><text x="61.14" y="281.90" font-family="Liberation Sans, sans-serif" font-size="13.9" textLength="36.20" lengthAdjust="spacingAndGlyphs" fill="#000">−140</text><text x="61.14" y="329.90" font-family="Liberation Sans, sans-serif" font-size="13.9" textLength="36.20" lengthAdjust="spacingAndGlyphs" fill="#000">−160</text><text x="61.14" y="377.90" font-family="Liberation Sans, sans-serif" font-size="13.9" textLength="36.20" lengthAdjust="spacingAndGlyphs" fill="#000">−180</text><text x="61.14" y="425.90" font-family="Liberation Sans, sans-serif" font-size="13.9" textLength="36.20" lengthAdjust="spacingAndGlyphs" fill="#000">−200</text><text x="95.00" y="441.00" font-family="Liberation Sans, sans-serif" font-size="13.9" textLength="27.75" lengthAdjust="spacingAndGlyphs" fill="#000">0.01</text><text x="250.80" y="441.00" font-family="Liberation Sans, sans-serif" font-size="13.9" textLength="19.41" lengthAdjust="spacingAndGlyphs" fill="#000">0.1</text><text x="408.83" y="441.00" font-family="Liberation Sans, sans-serif" font-size="13.9" textLength="9.02" lengthAdjust="spacingAndGlyphs" fill="#000">1</text><text x="557.34" y="441.00" font-family="Liberation Sans, sans-serif" font-size="13.9" textLength="16.45" lengthAdjust="spacingAndGlyphs" fill="#000">10</text><text x="705.35" y="441.00" font-family="Liberation Sans, sans-serif" font-size="13.9" textLength="24.45" lengthAdjust="spacingAndGlyphs" fill="#000">100</text><text x="398.36" y="459.80" font-family="Liberation Sans, sans-serif" font-size="13.9" textLength="66.92" lengthAdjust="spacingAndGlyphs" fill="#000">Period [s]</text><text x="824.90" y="425.90" font-family="Liberation Sans, sans-serif" font-size="13.9" textLength="6.77" lengthAdjust="spacingAndGlyphs" fill="#000">0</text><text x="823.90" y="365.90" font-family="Liberation Sans, sans-serif" font-size="13.9" textLength="7.73" lengthAdjust="spacingAndGlyphs" fill="#000">5</text><text x="825.30" y="305.90" font-family="Liberation Sans, sans-serif" font-size="13.9" textLength="15.45" lengthAdjust="spacingAndGlyphs" fill="#000">10</text><text x="825.30" y="245.90" font-family="Liberation Sans, sans-serif" font-size="13.9" textLength="15.45" lengthAdjust="spacingAndGlyphs" fill="#000">15</text><text x="824.90" y="185.90" font-family="Liberation Sans, sans-serif" font-size="13.9" textLength="15.45" lengthAdjust="spacingAndGlyphs" fill="#000">20</text><text x="824.90" y="125.90" font-family="Liberation Sans, sans-serif" font-size="13.9" textLength="15.45" lengthAdjust="spacingAndGlyphs" fill="#000">25</text><text x="824.90" y="65.90" font-family="Liberation Sans, sans-serif" font-size="13.9" textLength="15.45" lengthAdjust="spacingAndGlyphs" fill="#000">30</text><text transform="translate(47.0,330.9) rotate(-90)" x="-0.00" y="0" font-family="Liberation Sans, sans-serif" font-size="13.9" textLength="181.71" lengthAdjust="spacingAndGlyphs">Amplitude [<tspan font-style="italic">m</tspan><tspan font-size="9.7" dy="-5">2</tspan><tspan dy="5">/</tspan><tspan font-style="italic">s</tspan><tspan font-size="9.7" dy="-5">4</tspan><tspan dy="5">/</tspan><tspan font-style="italic">Hz</tspan>] [dB]</text><text transform="translate(859.0,252.7) rotate(-90)" x="-1.09" y="0" font-family="Liberation Sans, sans-serif" font-size="13.9" textLength="21.87" lengthAdjust="spacingAndGlyphs">[%]</text><text transform="translate(92.00,557.50) rotate(-30)" x="-0.00" y="0" font-family="Liberation Sans, sans-serif" font-size="13.9" textLength="79.07" lengthAdjust="spacingAndGlyphs">2025-10-30</text><text transform="translate(173.83,557.50) rotate(-30)" x="-0.00" y="0" font-family="Liberation Sans, sans-serif" font-size="13.9" textLength="79.07" lengthAdjust="spacingAndGlyphs">2025-10-31</text><text transform="translate(255.66,557.50) rotate(-30)" x="-0.00" y="0" font-family="Liberation Sans, sans-serif" font-size="13.9" textLength="79.04" lengthAdjust="spacingAndGlyphs">2025-11-01</text><text transform="translate(337.49,557.50) rotate(-30)" x="-0.00" y="0" font-family="Liberation Sans, sans-serif" font-size="13.9" textLength="79.04" lengthAdjust="spacingAndGlyphs">2025-11-02</text><text transform="translate(419.32,557.50) rotate(-30)" x="-0.00" y="0" font-family="Liberation Sans, sans-serif" font-size="13.9" textLength="79.04" lengthAdjust="spacingAndGlyphs">2025-11-03</text><text transform="translate(501.15,557.50) rotate(-30)" x="-0.00" y="0" font-family="Liberation Sans, sans-serif" font-size="13.9" textLength="79.04" lengthAdjust="spacingAndGlyphs">2025-11-04</text><text transform="translate(582.98,557.50) rotate(-30)" x="-0.00" y="0" font-family="Liberation Sans, sans-serif" font-size="13.9" textLength="79.04" lengthAdjust="spacingAndGlyphs">2025-11-05</text><text transform="translate(664.81,557.50) rotate(-30)" x="-0.00" y="0" font-family="Liberation Sans, sans-serif" font-size="13.9" textLength="79.04" lengthAdjust="spacingAndGlyphs">2025-11-06</text></g><rect x="164" y="475" width="572" height="9" fill="#008000"/><rect x="245.00" y="484" width="162.00" height="14" fill="#0000ff"/><rect x="409.00" y="484" width="80.00" height="14" fill="#0000ff"/><rect x="491.00" y="484" width="162.00" height="14" fill="#0000ff"/><rect x="655.00" y="484" width="80.00" height="14" fill="#0000ff"/><rect x="135.5" y="474.5" width="630" height="24" fill="none" stroke="#000" stroke-width="1.0"/><g stroke="#000" stroke-width="1.0"><line x1="164.50" y1="498.5" x2="164.50" y2="503.5"/><line x1="245.50" y1="498.5" x2="245.50" y2="503.5"/><line x1="327.50" y1="498.5" x2="327.50" y2="503.5"/><line x1="409.50" y1="498.5" x2="409.50" y2="503.5"/><line x1="491.50" y1="498.5" x2="491.50" y2="503.5"/><line x1="573.50" y1="498.5" x2="573.50" y2="503.5"/><line x1="655.50" y1="498.5" x2="655.50" y2="503.5"/><line x1="736.50" y1="498.5" x2="736.50" y2="503.5"/></g><rect x="0" y="577" width="900" height="23" fill="#808080"/><g stroke="#fff" stroke-width="0.1"><text x="9.70" y="595.00" font-family="Liberation Sans, sans-serif" font-size="13.9" textLength="533.84" lengthAdjust="spacingAndGlyphs" fill="#fff">Generated by SeedPSD on 2025-11-13 | Calculations updated on 2025-11-06</text></g></svg></body></html>
